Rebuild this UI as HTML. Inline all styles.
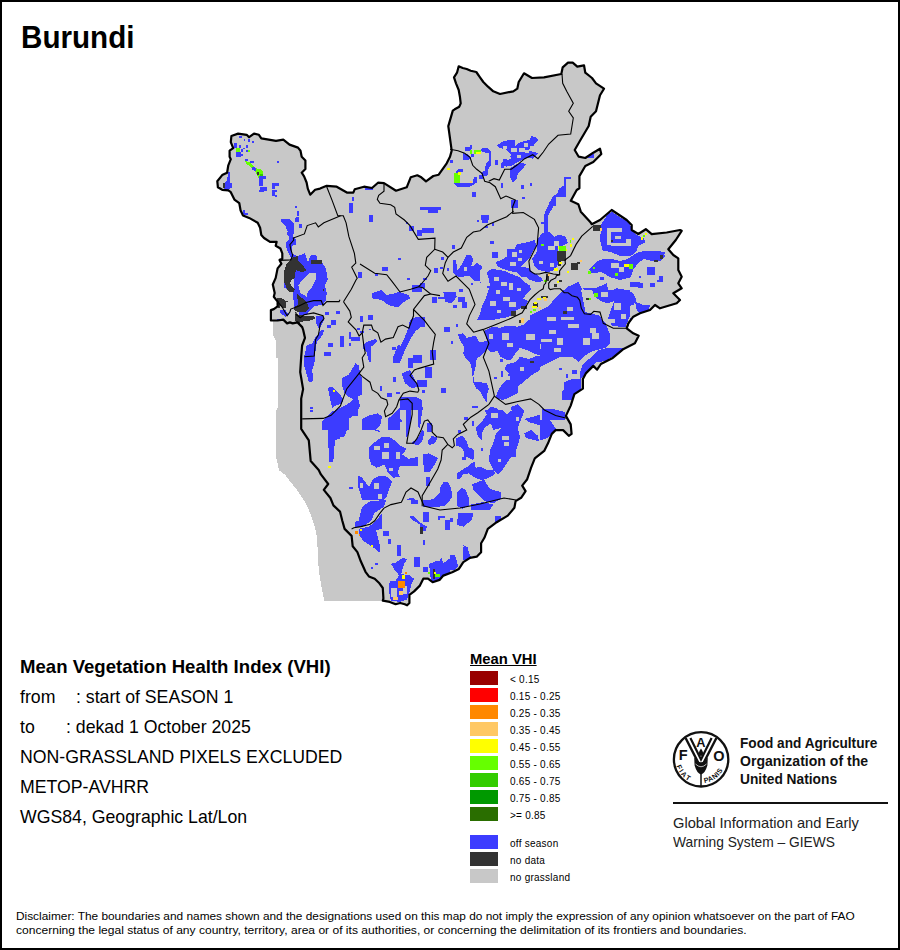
<!DOCTYPE html>
<html><head><meta charset="utf-8"><style>
html,body{margin:0;padding:0;background:#fff;}
body{width:900px;height:950px;position:relative;overflow:hidden;font-family:"Liberation Sans",sans-serif;}
.frame{position:absolute;left:0;top:0;width:896px;height:946px;border:2px solid #000;}
.t{position:absolute;white-space:nowrap;color:#000;}
.sw{position:absolute;left:470px;width:28px;height:14px;}
.lt{position:absolute;left:510px;font-size:10px;line-height:14px;margin-top:1.5px;letter-spacing:0.25px;white-space:nowrap;color:#000;}
svg{position:absolute;left:0;top:0;}
</style></head><body>
<div class="frame"></div>
<svg width="900" height="950" viewBox="0 0 900 950" shape-rendering="crispEdges">
<polygon points="272.7,321.0 272.7,334.0 275.6,340.0 275.6,357.0 278.4,359.0 278.4,406.0 276.5,410.0 275.6,421.0 275.6,455.5 277.5,463.0 278.8,470.0 284.7,474.4 289.2,480.3 296.5,489.2 302.4,498.0 306.9,505.4 310.5,514.2 314.2,524.5 316.4,533.4 317.9,551.1 318.7,570.2 320.9,583.5 323.1,595.3 324.5,600.5 384.0,600.5 384.0,560.0 330.0,470.0 310.0,330.0 310.0,316.0 272.7,316.0" fill="#C8C8C8"/>
<polygon points="231.4,136.0 238.1,133.6 246.7,134.8 249.1,137.2 254.0,133.6 258.9,134.8 261.3,138.4 268.7,139.7 276.0,140.9 283.3,139.7 289.5,144.6 298.0,147.6 300.5,150.7 301.7,156.8 305.4,160.5 305.4,169.0 301.7,172.7 304.1,176.3 306.6,182.5 307.8,188.6 310.2,194.7 315.1,189.8 320.0,188.6 326.7,185.8 336.7,186.7 347.3,192.7 353.3,192.7 354.7,189.3 364.0,186.7 372.0,188.0 378.0,182.7 384.0,183.1 396.0,190.7 406.7,187.3 410.7,177.3 417.3,175.3 421.3,177.3 426.0,181.3 433.3,176.0 438.7,174.7 446.7,163.3 450.0,156.7 451.7,150.6 448.3,126.1 452.8,110.6 454.7,109.3 459.3,106.7 460.7,103.3 460.0,97.3 458.7,90.0 456.0,83.3 454.0,77.3 457.0,72.7 458.7,66.3 462.7,68.0 466.7,69.0 470.7,70.7 476.3,72.0 480.0,77.3 483.3,82.0 488.0,86.7 493.3,91.3 500.0,94.0 513.3,91.3 517.3,88.7 518.7,82.0 524.0,73.3 532.0,78.0 544.0,77.3 561.3,74.0 562.7,67.3 568.0,62.7 572.7,62.7 577.3,66.7 584.0,65.3 585.3,72.7 592.0,78.0 596.0,83.3 604.0,88.7 600.0,95.3 596.0,111.3 590.7,116.7 588.7,126.0 580.0,140.7 574.7,150.0 578.7,156.7 585.3,158.0 593.3,152.7 600.0,148.7 601.3,154.0 593.3,162.0 585.3,166.0 579.4,176.1 579.4,188.3 576.7,190.0 570.8,200.8 578.3,204.2 580.8,211.7 590.0,221.7 591.7,224.2 600.0,220.0 611.7,210.0 626.7,220.0 631.7,225.0 631.7,230.0 638.3,234.0 645.8,229.2 651.7,234.2 666.7,232.5 680.0,230.0 681.7,230.8 675.8,240.0 668.3,249.2 673.3,255.0 678.3,258.3 678.3,270.0 681.7,276.7 678.3,283.3 681.7,288.3 673.3,293.3 680.0,300.0 676.7,303.3 660.0,308.3 655.0,305.0 650.0,310.0 640.0,313.3 633.3,316.7 628.3,323.3 626.7,328.3 633.3,333.3 638.7,335.7 634.9,343.2 623.6,348.9 612.2,358.3 600.9,364.0 597.1,369.7 593.3,365.9 585.8,373.4 582.9,379.1 582.9,388.6 574.4,394.2 570.7,405.6 565.9,415.9 570.7,424.4 571.6,433.9 568.8,435.8 563.1,430.1 555.6,430.1 551.8,433.9 548.0,443.3 544.2,450.9 534.8,458.4 531.0,467.9 527.2,479.2 522.2,485.6 525.6,491.1 521.1,497.8 515.6,501.1 514.4,507.8 507.8,515.6 496.7,522.2 487.8,528.9 484.4,537.8 481.1,543.3 481.1,552.2 476.7,556.7 470.0,557.8 463.3,562.2 458.9,568.9 452.2,572.2 443.3,575.6 439.5,579.9 432.6,582.2 428.0,578.7 423.3,578.7 419.9,585.6 414.1,591.4 409.4,594.9 409.4,603.0 407.1,605.3 404.8,604.2 400.2,603.0 395.6,604.2 389.8,601.9 382.8,600.7 383.4,598.4 382.8,588.0 379.4,583.3 374.7,578.7 368.9,576.4 365.5,571.8 360.8,561.3 357.4,552.1 352.7,546.3 351.6,535.9 344.6,528.9 342.3,520.8 340.0,511.6 333.4,505.4 330.4,498.0 323.8,489.9 328.2,484.0 320.9,474.4 318.7,470.0 310.7,461.1 308.8,440.3 301.2,428.9 301.2,398.6 303.1,389.1 300.2,372.0 301.2,356.9 302.1,345.5 305.0,337.9 303.2,330.0 302.2,327.1 297.5,322.4 292.7,323.4 289.9,322.4 287.1,323.4 283.3,319.6 277.6,320.5 270.9,320.5 270.9,310.1 273.8,309.1 277.6,306.3 277.6,301.6 273.8,296.8 274.7,293.0 272.8,284.5 275.7,277.9 277.6,268.4 281.4,263.7 279.5,259.9 282.3,258.9 282.3,253.3 280.4,248.5 275.7,245.7 276.6,241.9 270.0,241.9 264.0,238.0 261.3,235.0 260.1,227.7 257.7,222.8 249.1,217.9 243.0,215.5 240.6,210.6 239.3,203.2 234.4,199.6 230.8,192.2 228.3,190.4 222.2,189.8 217.9,187.3 217.3,181.2 222.2,175.1 227.1,172.7 228.3,165.3 230.8,159.2 229.6,156.8 229.6,150.7 233.2,148.2 230.8,142.1" fill="#C8C8C8"/>
<defs><clipPath id="cl"><polygon points="231.4,136.0 238.1,133.6 246.7,134.8 249.1,137.2 254.0,133.6 258.9,134.8 261.3,138.4 268.7,139.7 276.0,140.9 283.3,139.7 289.5,144.6 298.0,147.6 300.5,150.7 301.7,156.8 305.4,160.5 305.4,169.0 301.7,172.7 304.1,176.3 306.6,182.5 307.8,188.6 310.2,194.7 315.1,189.8 320.0,188.6 326.7,185.8 336.7,186.7 347.3,192.7 353.3,192.7 354.7,189.3 364.0,186.7 372.0,188.0 378.0,182.7 384.0,183.1 396.0,190.7 406.7,187.3 410.7,177.3 417.3,175.3 421.3,177.3 426.0,181.3 433.3,176.0 438.7,174.7 446.7,163.3 450.0,156.7 451.7,150.6 448.3,126.1 452.8,110.6 454.7,109.3 459.3,106.7 460.7,103.3 460.0,97.3 458.7,90.0 456.0,83.3 454.0,77.3 457.0,72.7 458.7,66.3 462.7,68.0 466.7,69.0 470.7,70.7 476.3,72.0 480.0,77.3 483.3,82.0 488.0,86.7 493.3,91.3 500.0,94.0 513.3,91.3 517.3,88.7 518.7,82.0 524.0,73.3 532.0,78.0 544.0,77.3 561.3,74.0 562.7,67.3 568.0,62.7 572.7,62.7 577.3,66.7 584.0,65.3 585.3,72.7 592.0,78.0 596.0,83.3 604.0,88.7 600.0,95.3 596.0,111.3 590.7,116.7 588.7,126.0 580.0,140.7 574.7,150.0 578.7,156.7 585.3,158.0 593.3,152.7 600.0,148.7 601.3,154.0 593.3,162.0 585.3,166.0 579.4,176.1 579.4,188.3 576.7,190.0 570.8,200.8 578.3,204.2 580.8,211.7 590.0,221.7 591.7,224.2 600.0,220.0 611.7,210.0 626.7,220.0 631.7,225.0 631.7,230.0 638.3,234.0 645.8,229.2 651.7,234.2 666.7,232.5 680.0,230.0 681.7,230.8 675.8,240.0 668.3,249.2 673.3,255.0 678.3,258.3 678.3,270.0 681.7,276.7 678.3,283.3 681.7,288.3 673.3,293.3 680.0,300.0 676.7,303.3 660.0,308.3 655.0,305.0 650.0,310.0 640.0,313.3 633.3,316.7 628.3,323.3 626.7,328.3 633.3,333.3 638.7,335.7 634.9,343.2 623.6,348.9 612.2,358.3 600.9,364.0 597.1,369.7 593.3,365.9 585.8,373.4 582.9,379.1 582.9,388.6 574.4,394.2 570.7,405.6 565.9,415.9 570.7,424.4 571.6,433.9 568.8,435.8 563.1,430.1 555.6,430.1 551.8,433.9 548.0,443.3 544.2,450.9 534.8,458.4 531.0,467.9 527.2,479.2 522.2,485.6 525.6,491.1 521.1,497.8 515.6,501.1 514.4,507.8 507.8,515.6 496.7,522.2 487.8,528.9 484.4,537.8 481.1,543.3 481.1,552.2 476.7,556.7 470.0,557.8 463.3,562.2 458.9,568.9 452.2,572.2 443.3,575.6 439.5,579.9 432.6,582.2 428.0,578.7 423.3,578.7 419.9,585.6 414.1,591.4 409.4,594.9 409.4,603.0 407.1,605.3 404.8,604.2 400.2,603.0 395.6,604.2 389.8,601.9 382.8,600.7 383.4,598.4 382.8,588.0 379.4,583.3 374.7,578.7 368.9,576.4 365.5,571.8 360.8,561.3 357.4,552.1 352.7,546.3 351.6,535.9 344.6,528.9 342.3,520.8 340.0,511.6 333.4,505.4 330.4,498.0 323.8,489.9 328.2,484.0 320.9,474.4 318.7,470.0 310.7,461.1 308.8,440.3 301.2,428.9 301.2,398.6 303.1,389.1 300.2,372.0 301.2,356.9 302.1,345.5 305.0,337.9 303.2,330.0 302.2,327.1 297.5,322.4 292.7,323.4 289.9,322.4 287.1,323.4 283.3,319.6 277.6,320.5 270.9,320.5 270.9,310.1 273.8,309.1 277.6,306.3 277.6,301.6 273.8,296.8 274.7,293.0 272.8,284.5 275.7,277.9 277.6,268.4 281.4,263.7 279.5,259.9 282.3,258.9 282.3,253.3 280.4,248.5 275.7,245.7 276.6,241.9 270.0,241.9 264.0,238.0 261.3,235.0 260.1,227.7 257.7,222.8 249.1,217.9 243.0,215.5 240.6,210.6 239.3,203.2 234.4,199.6 230.8,192.2 228.3,190.4 222.2,189.8 217.9,187.3 217.3,181.2 222.2,175.1 227.1,172.7 228.3,165.3 230.8,159.2 229.6,156.8 229.6,150.7 233.2,148.2 230.8,142.1"/></clipPath></defs>
<g clip-path="url(#cl)">
<rect x="239.2" y="135.8" width="2.5" height="2.5" fill="#3C3CFF"/>
<rect x="252.5" y="140.8" width="2.0" height="2.0" fill="#3C3CFF"/>
<rect x="234.2" y="143.3" width="2.5" height="4.2" fill="#3C3CFF"/>
<rect x="239.2" y="145.0" width="2.5" height="2.5" fill="#3C3CFF"/>
<rect x="245.0" y="145.0" width="2.5" height="2.5" fill="#3C3CFF"/>
<rect x="241.7" y="148.3" width="3.3" height="2.5" fill="#3C3CFF"/>
<rect x="235.8" y="151.7" width="6.7" height="5.0" fill="#3C3CFF"/>
<rect x="235.8" y="148.3" width="4.2" height="4.2" fill="#66FF00"/>
<rect x="242.5" y="154.2" width="1.7" height="2.5" fill="#3C3CFF"/>
<rect x="247.5" y="150.0" width="2.5" height="1.7" fill="#66FF00"/>
<polygon points="245.0,160.0 250.8,160.8 255.0,165.8 260.0,168.3 263.3,171.7 263.3,178.3 258.3,179.2 256.7,174.2 252.5,170.0 248.3,165.8 245.0,163.3" fill="#66FF00"/>
<rect x="250.0" y="160.8" width="3.3" height="2.5" fill="#3C3CFF"/>
<rect x="252.5" y="167.5" width="4.2" height="3.3" fill="#3C3CFF"/>
<polygon points="257.5,176.7 265.8,177.5 265.0,181.7 262.5,187.5 259.2,187.5 259.2,180.0" fill="#3C3CFF"/>
<rect x="259.2" y="187.5" width="9.2" height="4.2" fill="#3C3CFF"/>
<rect x="276.7" y="160.8" width="2.0" height="2.0" fill="#3C3CFF"/>
<polygon points="272.5,183.3 279.2,183.3 278.3,187.5 276.7,196.7 272.5,195.8 271.7,186.7" fill="#3C3CFF"/>
<polygon points="227.5,172.5 230.0,172.5 230.8,181.7 231.7,188.3 225.0,189.2 224.2,181.7 226.7,180.0" fill="#3C3CFF"/>
<rect x="223.3" y="183.3" width="2.0" height="5.8" fill="#333333"/>
<rect x="243.3" y="210.0" width="4.2" height="5.0" fill="#3C3CFF"/>
<rect x="295.0" y="205.8" width="2.0" height="2.5" fill="#3C3CFF"/>
<rect x="296.7" y="210.0" width="2.5" height="7.5" fill="#3C3CFF"/>
<rect x="295.0" y="216.7" width="3.3" height="5.0" fill="#3C3CFF"/>
<rect x="299.2" y="224.2" width="2.5" height="4.2" fill="#3C3CFF"/>
<polygon points="280.8,219.2 290.0,219.2 294.2,223.3 294.2,231.7 292.5,236.7 296.7,240.0 296.7,246.7 293.3,250.0 290.8,253.3 287.5,248.3 289.2,243.3 288.3,233.3 285.8,226.7 281.7,222.5" fill="#3C3CFF"/>
<polygon points="290.8,253.3 300.8,254.2 305.8,253.3 307.5,263.3 310.8,256.7 316.7,255.8 321.7,261.7 325.0,268.3 326.7,280.0 285.0,280.0 285.0,266.7 289.2,258.3" fill="#3C3CFF"/>
<polygon points="286.7,256.7 298.3,256.7 303.3,263.3 300.8,271.7 293.3,276.7 285.0,280.0 284.2,263.3" fill="#333333"/>
<rect x="313.3" y="260.0" width="8.3" height="5.0" fill="#333333"/>
<rect x="351.7" y="196.7" width="2.5" height="4.2" fill="#3C3CFF"/>
<rect x="349.2" y="203.3" width="3.3" height="9.2" fill="#3C3CFF"/>
<rect x="358.3" y="271.7" width="3.3" height="6.7" fill="#3C3CFF"/>
<polygon points="463.3,153.3 468.3,154.2 470.0,160.0 464.2,160.8" fill="#3C3CFF"/>
<rect x="465.0" y="145.8" width="6.7" height="3.3" fill="#3C3CFF"/>
<rect x="470.0" y="153.3" width="3.3" height="4.2" fill="#3C3CFF"/>
<rect x="470.0" y="150.0" width="2.5" height="3.3" fill="#66FF00"/>
<rect x="474.2" y="150.0" width="6.7" height="3.3" fill="#66FF00"/>
<rect x="475.8" y="151.7" width="5.0" height="1.7" fill="#FFFF00"/>
<rect x="481.7" y="148.3" width="8.3" height="5.0" fill="#3C3CFF"/>
<rect x="488.3" y="143.3" width="3.3" height="6.7" fill="#3C3CFF"/>
<rect x="489.2" y="153.3" width="3.3" height="15.0" fill="#3C3CFF"/>
<rect x="485.0" y="167.5" width="3.3" height="9.2" fill="#3C3CFF"/>
<rect x="480.0" y="176.7" width="2.5" height="2.5" fill="#3C3CFF"/>
<rect x="495.0" y="160.8" width="3.3" height="5.0" fill="#3C3CFF"/>
<polygon points="497.5,144.2 508.3,140.0 515.0,139.2 515.0,150.0 510.0,153.3 508.3,159.2 503.3,160.0 503.3,150.0 498.3,147.5" fill="#3C3CFF"/>
<rect x="508.3" y="159.2" width="6.7" height="3.3" fill="#3C3CFF"/>
<rect x="510.0" y="171.7" width="5.0" height="10.0" fill="#3C3CFF"/>
<rect x="500.8" y="181.7" width="2.5" height="5.8" fill="#3C3CFF"/>
<polygon points="454.2,174.2 460.8,171.7 460.8,181.7 456.7,185.8 454.2,180.0" fill="#66FF00"/>
<rect x="457.5" y="168.3" width="5.0" height="3.3" fill="#3C3CFF"/>
<rect x="458.3" y="176.7" width="2.5" height="5.0" fill="#3C3CFF"/>
<rect x="455.8" y="182.5" width="18.3" height="5.0" fill="#3C3CFF"/>
<rect x="471.7" y="176.7" width="4.2" height="7.5" fill="#3C3CFF"/>
<rect x="446.7" y="167.5" width="3.3" height="2.5" fill="#FFFF00"/>
<rect x="458.3" y="172.5" width="3.3" height="1.7" fill="#FFFF00"/>
<rect x="471.7" y="191.7" width="4.2" height="5.0" fill="#3C3CFF"/>
<rect x="420.0" y="206.7" width="20.8" height="3.3" fill="#3C3CFF"/>
<rect x="428.3" y="208.3" width="9.2" height="4.2" fill="#3C3CFF"/>
<rect x="481.7" y="216.7" width="6.7" height="5.8" fill="#3C3CFF"/>
<rect x="476.7" y="219.2" width="2.5" height="2.5" fill="#3C3CFF"/>
<rect x="485.0" y="225.8" width="3.3" height="2.5" fill="#3C3CFF"/>
<rect x="491.7" y="223.3" width="2.5" height="2.5" fill="#3C3CFF"/>
<rect x="512.5" y="203.3" width="2.5" height="10.0" fill="#3C3CFF"/>
<rect x="405.8" y="221.7" width="2.5" height="2.5" fill="#3C3CFF"/>
<rect x="409.2" y="225.8" width="5.0" height="5.0" fill="#3C3CFF"/>
<rect x="416.7" y="230.0" width="5.0" height="5.8" fill="#3C3CFF"/>
<rect x="421.7" y="228.3" width="12.5" height="4.2" fill="#3C3CFF"/>
<rect x="369.2" y="215.0" width="3.3" height="6.7" fill="#3C3CFF"/>
<rect x="451.7" y="245.8" width="2.5" height="3.3" fill="#3C3CFF"/>
<rect x="465.0" y="253.3" width="5.8" height="5.0" fill="#3C3CFF"/>
<rect x="490.0" y="241.7" width="4.2" height="2.5" fill="#3C3CFF"/>
<polygon points="451.7,260.0 458.3,258.3 465.0,253.3 471.7,256.7 473.3,266.7 481.7,265.0 481.7,280.0 451.7,280.0 450.0,268.3" fill="#3C3CFF"/>
<rect x="493.3" y="253.3" width="3.3" height="4.2" fill="#3C3CFF"/>
<rect x="496.7" y="261.7" width="5.0" height="8.3" fill="#3C3CFF"/>
<polygon points="505.0,250.0 515.0,248.3 515.0,280.0 491.7,280.0 491.7,271.7 501.7,263.3 505.0,258.3" fill="#3C3CFF"/>
<rect x="398.3" y="257.5" width="2.5" height="2.5" fill="#3C3CFF"/>
<rect x="381.7" y="266.7" width="5.8" height="4.2" fill="#3C3CFF"/>
<rect x="375.0" y="272.5" width="3.3" height="3.3" fill="#3C3CFF"/>
<rect x="434.2" y="268.3" width="3.3" height="4.2" fill="#3C3CFF"/>
<rect x="440.8" y="257.5" width="2.5" height="2.5" fill="#3C3CFF"/>
<rect x="406.7" y="277.5" width="3.3" height="2.5" fill="#3C3CFF"/>
<rect x="423.3" y="277.5" width="3.3" height="2.5" fill="#3C3CFF"/>
<rect x="365.0" y="186.7" width="8.3" height="3.3" fill="#3C3CFF"/>
<rect x="517.5" y="141.7" width="4.2" height="5.8" fill="#3C3CFF"/>
<rect x="521.7" y="148.3" width="5.0" height="4.2" fill="#3C3CFF"/>
<rect x="526.7" y="144.2" width="4.2" height="3.3" fill="#3C3CFF"/>
<rect x="531.7" y="136.7" width="4.2" height="4.2" fill="#3C3CFF"/>
<rect x="530.8" y="140.0" width="6.7" height="2.5" fill="#3C3CFF"/>
<rect x="528.3" y="151.7" width="10.0" height="4.2" fill="#3C3CFF"/>
<rect x="515.0" y="156.7" width="5.0" height="4.2" fill="#3C3CFF"/>
<rect x="515.0" y="163.3" width="9.2" height="5.0" fill="#3C3CFF"/>
<rect x="520.0" y="161.7" width="5.0" height="4.2" fill="#3C3CFF"/>
<rect x="515.0" y="168.3" width="2.5" height="11.7" fill="#3C3CFF"/>
<rect x="519.2" y="174.2" width="2.5" height="2.5" fill="#3C3CFF"/>
<rect x="520.8" y="185.8" width="3.3" height="4.2" fill="#3C3CFF"/>
<rect x="530.0" y="183.3" width="2.5" height="2.5" fill="#3C3CFF"/>
<rect x="521.7" y="196.7" width="2.5" height="2.5" fill="#3C3CFF"/>
<rect x="515.0" y="199.2" width="4.2" height="6.7" fill="#3C3CFF"/>
<rect x="588.3" y="154.2" width="5.8" height="3.3" fill="#3C3CFF"/>
<polygon points="564.2,177.5 570.8,177.5 570.0,180.0 565.0,180.8 565.0,186.7 565.8,195.8 558.3,197.5 553.3,201.7 550.0,207.5 546.7,213.3 545.8,223.3 545.8,238.3 542.5,238.3 542.5,221.7 544.2,211.7 548.3,203.3 553.3,196.7 557.5,191.7 561.7,187.5" fill="#3C3CFF"/>
<polygon points="516.7,246.7 525.0,243.3 533.3,245.0 540.0,240.0 548.3,236.7 560.0,233.3 565.0,236.7 570.0,246.7 565.0,255.0 558.3,260.0 555.0,268.3 550.0,275.0 540.0,280.0 515.0,280.0 515.0,256.7" fill="#3C3CFF"/>
<rect x="518.3" y="256.7" width="5.0" height="4.2" fill="#C8C8C8"/>
<rect x="525.0" y="263.3" width="4.2" height="5.0" fill="#C8C8C8"/>
<rect x="548.3" y="238.3" width="5.0" height="6.7" fill="#C8C8C8"/>
<rect x="531.7" y="266.7" width="5.0" height="3.3" fill="#C8C8C8"/>
<rect x="556.7" y="250.8" width="7.5" height="10.0" fill="#333333"/>
<rect x="544.2" y="273.3" width="3.3" height="6.7" fill="#333333"/>
<rect x="559.2" y="245.8" width="6.7" height="4.2" fill="#66FF00"/>
<rect x="540.8" y="244.2" width="3.3" height="2.5" fill="#66FF00"/>
<rect x="568.3" y="240.0" width="2.5" height="2.5" fill="#66FF00"/>
<rect x="557.5" y="246.7" width="2.5" height="2.5" fill="#FFFF00"/>
<rect x="569.2" y="244.2" width="2.5" height="2.5" fill="#FFFF00"/>
<rect x="571.7" y="237.5" width="2.5" height="2.5" fill="#FFFF00"/>
<rect x="559.2" y="261.7" width="3.3" height="2.5" fill="#FFFF00"/>
<rect x="555.0" y="268.3" width="2.5" height="2.5" fill="#FFFF00"/>
<rect x="570.8" y="263.3" width="6.7" height="6.7" fill="#333333"/>
<rect x="576.7" y="261.7" width="3.3" height="2.5" fill="#333333"/>
<rect x="593.3" y="224.2" width="8.3" height="7.5" fill="#333333"/>
<rect x="600.0" y="228.3" width="2.0" height="2.5" fill="#FFC864"/>
<polygon points="607.5,213.3 611.7,210.0 623.3,218.3 631.7,223.3 631.7,230.0 638.3,234.2 643.3,233.3 645.0,240.0 638.3,245.0 631.7,250.0 623.3,253.3 616.7,256.7 607.5,253.3 603.3,250.0 600.8,238.3 601.7,226.7 607.5,223.3" fill="#3C3CFF"/>
<rect x="610.0" y="229.2" width="10.0" height="3.3" fill="#C8C8C8"/>
<rect x="608.3" y="232.5" width="3.3" height="13.3" fill="#C8C8C8"/>
<rect x="611.7" y="242.5" width="13.3" height="3.3" fill="#C8C8C8"/>
<rect x="616.7" y="235.0" width="8.3" height="2.5" fill="#C8C8C8"/>
<rect x="603.3" y="251.7" width="6.7" height="3.3" fill="#C8C8C8"/>
<polygon points="593.3,268.3 603.3,261.7 610.0,258.3 621.7,256.7 631.7,253.3 641.7,251.7 653.3,251.7 665.0,250.0 665.0,261.7 653.3,263.3 646.7,261.7 635.0,260.0 625.0,261.7 618.3,266.7 611.7,271.7 601.7,273.3 591.7,271.7" fill="#3C3CFF"/>
<rect x="585.0" y="271.7" width="6.7" height="2.5" fill="#66FF00"/>
<rect x="615.0" y="273.3" width="3.3" height="2.5" fill="#66FF00"/>
<rect x="624.2" y="263.3" width="5.0" height="3.3" fill="#FFFF00"/>
<rect x="629.2" y="264.2" width="3.3" height="4.2" fill="#66FF00"/>
<rect x="648.3" y="266.7" width="6.7" height="10.0" fill="#3C3CFF"/>
<rect x="660.0" y="255.0" width="2.5" height="2.5" fill="#333333"/>
<rect x="648.3" y="266.7" width="7.5" height="10.0" fill="#3C3CFF"/>
<rect x="656.7" y="275.0" width="5.8" height="6.7" fill="#3C3CFF"/>
<rect x="651.7" y="253.3" width="11.7" height="7.5" fill="#3C3CFF"/>
<rect x="660.0" y="255.0" width="2.5" height="2.5" fill="#333333"/>
<rect x="630.0" y="281.7" width="10.0" height="5.0" fill="#3C3CFF"/>
<rect x="638.3" y="283.3" width="4.2" height="4.2" fill="#3C3CFF"/>
<rect x="650.0" y="283.3" width="5.0" height="3.3" fill="#3C3CFF"/>
<rect x="663.3" y="251.7" width="3.3" height="3.3" fill="#3C3CFF"/>
<polygon points="600.0,260.0 611.7,257.5 626.7,258.3 633.3,256.7 640.0,260.0 640.0,266.7 633.3,270.0 626.7,276.7 620.0,276.7 613.3,268.3 603.3,268.3 596.7,266.7" fill="#3C3CFF"/>
<rect x="624.2" y="264.2" width="5.0" height="3.3" fill="#FFFF00"/>
<rect x="628.3" y="264.2" width="4.2" height="5.0" fill="#66FF00"/>
<polygon points="568.3,286.7 578.3,281.7 583.3,291.7 585.0,300.0 595.0,301.7 596.7,306.7 590.0,310.0 583.3,306.7 580.0,301.7 576.7,296.7 570.0,293.3" fill="#3C3CFF"/>
<polygon points="583.3,288.3 595.0,288.3 606.7,283.3 608.3,290.0 600.0,296.7 593.3,298.3 586.7,296.7" fill="#3C3CFF"/>
<polygon points="608.3,291.7 616.7,288.3 626.7,290.0 633.3,293.3 636.7,300.0 633.3,305.0 626.7,306.7 623.3,313.3 616.7,316.7 611.7,323.3 606.7,321.7 606.7,313.3 610.0,306.7 608.3,300.0" fill="#3C3CFF"/>
<polygon points="635.0,301.7 643.3,305.0 650.0,305.0 648.3,311.7 640.0,313.3 636.7,310.0" fill="#3C3CFF"/>
<rect x="630.0" y="318.3" width="5.0" height="6.7" fill="#3C3CFF"/>
<rect x="618.3" y="323.3" width="6.7" height="6.7" fill="#3C3CFF"/>
<polygon points="590.0,313.3 598.3,311.7 603.3,316.7 600.0,323.3 595.0,326.7 590.0,321.7" fill="#3C3CFF"/>
<polygon points="540.0,310.0 550.0,303.3 560.0,296.7 571.7,295.0 578.3,300.0 583.3,311.7 590.0,316.7 598.3,325.0 606.7,326.7 610.0,336.7 613.3,343.3 610.0,350.0 603.3,356.7 596.7,365.0 588.3,366.7 581.7,365.0 573.3,366.7 561.7,365.0 550.0,365.0 540.0,365.0" fill="#3C3CFF"/>
<rect x="545.0" y="316.7" width="6.7" height="5.0" fill="#C8C8C8"/>
<rect x="556.7" y="320.0" width="8.3" height="4.2" fill="#C8C8C8"/>
<rect x="570.0" y="313.3" width="6.7" height="5.0" fill="#C8C8C8"/>
<rect x="565.0" y="325.0" width="5.0" height="5.0" fill="#C8C8C8"/>
<rect x="575.0" y="323.3" width="6.7" height="3.3" fill="#C8C8C8"/>
<rect x="555.0" y="333.3" width="5.0" height="5.0" fill="#C8C8C8"/>
<rect x="583.3" y="333.3" width="6.7" height="10.0" fill="#C8C8C8"/>
<rect x="593.3" y="336.7" width="6.7" height="6.7" fill="#C8C8C8"/>
<rect x="550.0" y="343.3" width="5.0" height="3.3" fill="#C8C8C8"/>
<rect x="565.0" y="346.7" width="8.3" height="5.0" fill="#C8C8C8"/>
<rect x="586.7" y="350.0" width="5.0" height="6.7" fill="#C8C8C8"/>
<rect x="540.0" y="348.3" width="5.0" height="5.0" fill="#C8C8C8"/>
<rect x="616.7" y="346.7" width="6.7" height="5.0" fill="#3C3CFF"/>
<rect x="603.3" y="353.3" width="5.0" height="5.0" fill="#3C3CFF"/>
<polygon points="578.3,366.7 588.3,363.3 593.3,365.0 595.0,368.3 590.0,371.7 583.3,376.7 581.7,383.3 578.3,395.0 573.3,400.0 561.7,400.0 563.3,383.3 571.7,375.0" fill="#3C3CFF"/>
<rect x="560.0" y="366.7" width="3.3" height="3.3" fill="#3C3CFF"/>
<rect x="570.8" y="263.3" width="5.8" height="6.7" fill="#333333"/>
<rect x="563.3" y="310.8" width="2.5" height="3.3" fill="#333333"/>
<rect x="284.2" y="280.0" width="3.3" height="8.3" fill="#3C3CFF"/>
<rect x="295.8" y="280.0" width="5.0" height="10.0" fill="#3C3CFF"/>
<rect x="298.3" y="290.0" width="6.7" height="6.7" fill="#3C3CFF"/>
<polygon points="285.0,280.0 295.0,280.0 295.0,291.7 288.3,291.7 285.0,286.7" fill="#333333"/>
<polygon points="308.3,285.0 315.0,280.0 326.7,280.0 325.0,290.0 325.0,301.7 318.3,305.0 308.3,301.7 308.3,293.3" fill="#3C3CFF"/>
<polygon points="296.7,296.7 305.0,298.3 308.3,303.3 305.0,310.0 298.3,310.0 296.7,303.3" fill="#333333"/>
<polygon points="276.7,298.3 290.0,300.0 288.3,303.3 285.0,308.3 278.3,308.3" fill="#333333"/>
<polygon points="303.3,305.0 321.7,303.3 325.0,310.0 321.7,313.3 315.0,313.3 305.0,313.3" fill="#3C3CFF"/>
<rect x="281.7" y="308.3" width="10.0" height="6.7" fill="#3C3CFF"/>
<rect x="291.7" y="311.7" width="6.7" height="5.0" fill="#3C3CFF"/>
<polygon points="293.3,313.3 301.7,313.3 311.7,315.0 316.7,318.3 311.7,321.7 301.7,323.3 295.0,320.0" fill="#333333"/>
<rect x="315.0" y="313.3" width="10.0" height="10.0" fill="#3C3CFF"/>
<rect x="321.7" y="310.0" width="5.0" height="5.0" fill="#3C3CFF"/>
<rect x="276.7" y="319.2" width="6.7" height="2.5" fill="#3C3CFF"/>
<rect x="336.7" y="310.8" width="3.3" height="3.3" fill="#3C3CFF"/>
<rect x="325.0" y="318.3" width="3.3" height="3.3" fill="#3C3CFF"/>
<rect x="331.7" y="321.7" width="5.0" height="5.0" fill="#3C3CFF"/>
<rect x="328.3" y="326.7" width="4.2" height="3.3" fill="#3C3CFF"/>
<polygon points="315.0,330.0 321.7,325.0 325.0,328.3 321.7,335.0 316.7,341.7 311.7,350.0 308.3,360.0 308.3,370.0 311.7,373.3 313.3,381.7 308.3,381.7 305.0,373.3 305.0,358.3 306.7,346.7 311.7,338.3" fill="#3C3CFF"/>
<rect x="340.0" y="335.0" width="4.2" height="6.7" fill="#3C3CFF"/>
<rect x="348.3" y="331.7" width="3.3" height="4.2" fill="#3C3CFF"/>
<rect x="351.7" y="336.7" width="8.3" height="5.0" fill="#3C3CFF"/>
<rect x="356.7" y="328.3" width="3.3" height="3.3" fill="#3C3CFF"/>
<rect x="360.0" y="315.8" width="2.5" height="5.8" fill="#3C3CFF"/>
<rect x="328.3" y="342.5" width="5.0" height="5.0" fill="#3C3CFF"/>
<rect x="341.7" y="341.7" width="2.5" height="4.2" fill="#3C3CFF"/>
<rect x="348.3" y="342.5" width="2.5" height="2.5" fill="#3C3CFF"/>
<rect x="323.3" y="352.5" width="6.7" height="3.3" fill="#3C3CFF"/>
<rect x="361.7" y="340.0" width="3.3" height="10.0" fill="#3C3CFF"/>
<polygon points="353.3,363.3 358.3,363.3 360.0,371.7 365.0,378.3 365.0,390.0 361.7,396.7 355.0,403.3 350.0,406.7 345.0,401.7 343.3,388.3 346.7,380.0 353.3,373.3" fill="#3C3CFF"/>
<polygon points="328.3,386.7 333.3,386.7 341.7,393.3 343.3,401.7 338.3,406.7 333.3,406.7 328.3,396.7" fill="#3C3CFF"/>
<rect x="333.0" y="389.7" width="2.0" height="2.0" fill="#FFFF00"/>
<polygon points="331.7,411.7 341.7,408.3 348.3,406.7 351.7,413.3 348.3,423.3 346.7,430.0 321.7,430.0 323.3,418.3" fill="#3C3CFF"/>
<rect x="310.0" y="405.8" width="3.3" height="5.8" fill="#3C3CFF"/>
<rect x="363.3" y="416.7" width="1.7" height="10.0" fill="#3C3CFF"/>
<polygon points="371.7,293.3 381.7,290.0 386.7,295.0 395.0,293.3 398.3,291.7 408.3,295.0 410.0,298.3 401.7,303.3 398.3,307.5 388.3,305.0 381.7,300.0 371.7,298.3" fill="#3C3CFF"/>
<rect x="411.7" y="285.0" width="10.0" height="6.7" fill="#3C3CFF"/>
<rect x="420.0" y="283.3" width="5.0" height="5.0" fill="#3C3CFF"/>
<rect x="431.7" y="296.7" width="5.0" height="6.7" fill="#3C3CFF"/>
<rect x="438.3" y="296.7" width="8.3" height="2.5" fill="#3C3CFF"/>
<polygon points="443.3,291.7 455.0,290.0 456.7,296.7 451.7,303.3 445.0,301.7" fill="#3C3CFF"/>
<rect x="458.3" y="296.7" width="6.7" height="5.0" fill="#3C3CFF"/>
<rect x="461.7" y="301.7" width="5.0" height="6.7" fill="#3C3CFF"/>
<rect x="453.3" y="305.0" width="3.3" height="2.5" fill="#3C3CFF"/>
<rect x="368.3" y="315.0" width="5.0" height="5.0" fill="#3C3CFF"/>
<polygon points="410.0,320.0 416.7,316.7 421.7,316.7 423.3,325.0 415.0,331.7 410.0,340.0 405.0,350.0 401.7,358.3 398.3,365.0 393.3,363.3 395.0,355.0 400.0,346.7 405.0,336.7 408.3,328.3" fill="#3C3CFF"/>
<rect x="420.0" y="316.7" width="5.0" height="10.0" fill="#3C3CFF"/>
<polygon points="365.0,335.0 370.0,328.3 375.0,338.3 371.7,350.0 370.0,361.7 365.0,361.7" fill="#3C3CFF"/>
<rect x="375.0" y="338.3" width="5.0" height="5.0" fill="#3C3CFF"/>
<rect x="413.3" y="355.0" width="8.3" height="8.3" fill="#3C3CFF"/>
<rect x="408.3" y="358.3" width="5.0" height="10.0" fill="#3C3CFF"/>
<rect x="430.0" y="350.0" width="5.8" height="10.0" fill="#3C3CFF"/>
<rect x="425.0" y="366.7" width="6.7" height="11.7" fill="#3C3CFF"/>
<polygon points="401.7,373.3 410.0,370.0 415.0,380.0 418.3,386.7 411.7,388.3 405.0,383.3" fill="#3C3CFF"/>
<rect x="416.7" y="380.0" width="10.0" height="6.7" fill="#3C3CFF"/>
<rect x="445.0" y="326.7" width="5.0" height="5.0" fill="#3C3CFF"/>
<rect x="391.7" y="346.7" width="2.5" height="3.3" fill="#3C3CFF"/>
<rect x="393.3" y="376.7" width="3.3" height="6.7" fill="#3C3CFF"/>
<rect x="451.7" y="341.7" width="2.5" height="3.3" fill="#3C3CFF"/>
<rect x="441.7" y="388.3" width="3.3" height="5.0" fill="#3C3CFF"/>
<rect x="380.0" y="386.7" width="3.3" height="10.0" fill="#3C3CFF"/>
<polygon points="461.7,333.3 468.3,331.7 475.0,335.0 481.7,330.0 488.3,335.0 488.3,346.7 483.3,353.3 480.0,360.0 473.3,360.0 465.0,358.3 463.3,346.7 458.3,340.0" fill="#3C3CFF"/>
<polygon points="481.7,296.7 491.7,290.0 488.3,283.3 498.3,280.0 515.0,280.0 515.0,320.0 498.3,323.3 488.3,320.0 481.7,318.3 481.7,306.7" fill="#3C3CFF"/>
<rect x="498.3" y="290.0" width="6.7" height="6.7" fill="#C8C8C8"/>
<rect x="506.7" y="300.0" width="8.3" height="6.7" fill="#C8C8C8"/>
<rect x="491.7" y="310.0" width="6.7" height="5.0" fill="#C8C8C8"/>
<rect x="463.3" y="280.0" width="8.3" height="3.3" fill="#3C3CFF"/>
<rect x="468.3" y="286.7" width="5.0" height="5.0" fill="#3C3CFF"/>
<rect x="478.3" y="283.3" width="5.0" height="5.0" fill="#3C3CFF"/>
<polygon points="485.0,326.7 498.3,323.3 515.0,325.0 515.0,373.3 508.3,380.0 503.3,388.3 511.7,393.3 515.0,396.7 515.0,430.0 465.0,430.0 473.3,416.7 481.7,413.3 491.7,406.7 495.0,396.7 491.7,386.7 488.3,376.7 485.0,366.7 481.7,360.0 485.0,350.0 488.3,340.0 481.7,335.0" fill="#3C3CFF"/>
<rect x="498.3" y="330.0" width="6.7" height="6.7" fill="#C8C8C8"/>
<rect x="485.0" y="350.0" width="10.0" height="10.0" fill="#C8C8C8"/>
<rect x="491.7" y="363.3" width="6.7" height="8.3" fill="#C8C8C8"/>
<rect x="498.3" y="373.3" width="6.7" height="6.7" fill="#C8C8C8"/>
<rect x="481.7" y="373.3" width="6.7" height="6.7" fill="#C8C8C8"/>
<rect x="506.7" y="353.3" width="8.3" height="8.3" fill="#C8C8C8"/>
<rect x="501.7" y="396.7" width="10.0" height="10.0" fill="#C8C8C8"/>
<rect x="481.7" y="393.3" width="6.7" height="6.7" fill="#C8C8C8"/>
<rect x="488.3" y="416.7" width="10.0" height="6.7" fill="#C8C8C8"/>
<rect x="471.7" y="363.3" width="5.0" height="25.0" fill="#3C3CFF"/>
<rect x="475.0" y="380.0" width="10.0" height="10.0" fill="#3C3CFF"/>
<rect x="481.7" y="396.7" width="5.0" height="6.7" fill="#3C3CFF"/>
<polygon points="365.0,413.3 375.0,413.3 381.7,418.3 378.3,430.0 365.0,430.0" fill="#3C3CFF"/>
<polygon points="388.3,400.0 401.7,396.7 415.0,396.7 421.7,400.0 423.3,413.3 420.0,430.0 386.7,430.0 385.0,413.3" fill="#3C3CFF"/>
<rect x="391.7" y="406.7" width="6.7" height="6.7" fill="#C8C8C8"/>
<rect x="405.0" y="410.0" width="5.0" height="10.0" fill="#C8C8C8"/>
<rect x="398.3" y="420.0" width="5.0" height="6.7" fill="#C8C8C8"/>
<rect x="421.7" y="390.0" width="3.3" height="3.3" fill="#3C3CFF"/>
<polygon points="490.0,270.0 531.1,270.0 537.4,274.7 543.7,279.5 540.5,288.9 531.1,296.8 524.7,304.7 518.4,311.1 510.5,317.4 490.0,320.5" fill="#3C3CFF"/>
<rect x="494.7" y="276.3" width="7.9" height="4.7" fill="#C8C8C8"/>
<rect x="508.9" y="282.6" width="9.5" height="7.9" fill="#C8C8C8"/>
<rect x="490.0" y="290.5" width="6.3" height="6.3" fill="#C8C8C8"/>
<rect x="521.6" y="279.5" width="6.3" height="6.3" fill="#C8C8C8"/>
<rect x="504.2" y="296.8" width="9.5" height="6.3" fill="#C8C8C8"/>
<rect x="515.3" y="293.7" width="6.3" height="6.3" fill="#C8C8C8"/>
<rect x="496.3" y="306.3" width="7.9" height="4.7" fill="#C8C8C8"/>
<polygon points="550.0,301.6 556.3,295.3 565.0,293.7 565.0,311.1 553.2,311.1" fill="#3C3CFF"/>
<polygon points="490.0,322.1 510.5,322.1 531.1,317.4 542.1,317.4 553.2,311.1 565.0,312.6 565.0,345.8 553.2,349.0 542.1,358.4 537.4,355.3 529.5,347.4 518.4,339.5 508.9,336.3 490.0,339.5" fill="#3C3CFF"/>
<rect x="499.5" y="328.4" width="7.9" height="7.9" fill="#C8C8C8"/>
<rect x="521.6" y="325.3" width="9.5" height="6.3" fill="#C8C8C8"/>
<rect x="534.2" y="326.8" width="9.5" height="7.9" fill="#C8C8C8"/>
<rect x="550.0" y="320.5" width="6.3" height="6.3" fill="#C8C8C8"/>
<rect x="510.5" y="336.3" width="4.7" height="4.7" fill="#C8C8C8"/>
<rect x="537.4" y="342.6" width="7.9" height="6.3" fill="#C8C8C8"/>
<rect x="556.3" y="336.3" width="6.3" height="7.9" fill="#C8C8C8"/>
<polygon points="490.0,352.1 499.5,349.0 510.5,350.5 518.4,344.2 527.9,352.1 537.4,360.0 532.6,367.9 524.7,380.5 520.0,390.0 510.5,394.7 499.5,397.9 490.0,397.9" fill="#3C3CFF"/>
<rect x="493.2" y="364.7" width="6.3" height="9.5" fill="#C8C8C8"/>
<rect x="507.4" y="371.1" width="6.3" height="6.3" fill="#C8C8C8"/>
<rect x="499.5" y="383.7" width="6.3" height="6.3" fill="#C8C8C8"/>
<rect x="559.5" y="367.9" width="3.2" height="3.2" fill="#3C3CFF"/>
<polygon points="490.0,401.1 499.5,399.5 508.9,407.4 521.6,405.8 529.5,412.1 529.5,420.0 490.0,420.0" fill="#3C3CFF"/>
<polygon points="542.1,409.0 553.2,409.0 565.0,412.1 565.0,420.0 542.1,420.0" fill="#3C3CFF"/>
<rect x="510.5" y="311.1" width="4.7" height="4.7" fill="#333333"/>
<rect x="521.6" y="304.7" width="4.7" height="4.7" fill="#333333"/>
<rect x="530.3" y="360.8" width="4.7" height="2.4" fill="#333333"/>
<rect x="520.0" y="318.9" width="3.9" height="3.9" fill="#FFC864"/>
<rect x="532.6" y="301.6" width="4.7" height="6.3" fill="#FFFF00"/>
<rect x="537.4" y="297.6" width="6.3" height="3.2" fill="#FFFF00"/>
<rect x="530.3" y="307.9" width="4.7" height="4.7" fill="#66FF00"/>
<polygon points="328.3,430.0 345.0,430.0 345.0,436.7 335.0,440.0 333.3,461.7 329.2,461.7 328.3,443.3" fill="#3C3CFF"/>
<rect x="328.3" y="465.8" width="2.5" height="2.5" fill="#FFFF00"/>
<polygon points="370.0,446.7 376.7,443.3 383.3,445.0 390.0,436.7 400.0,436.7 406.7,445.0 416.7,445.0 420.0,455.0 416.7,463.3 403.3,465.0 393.3,470.0 386.7,470.0 380.0,466.7 373.3,465.0 369.2,456.7" fill="#3C3CFF"/>
<rect x="378.3" y="448.3" width="5.0" height="8.3" fill="#C8C8C8"/>
<rect x="393.3" y="451.7" width="6.7" height="6.7" fill="#C8C8C8"/>
<rect x="406.7" y="455.0" width="6.7" height="5.0" fill="#C8C8C8"/>
<rect x="400.0" y="470.0" width="6.7" height="8.3" fill="#3C3CFF"/>
<rect x="386.7" y="468.3" width="5.0" height="5.0" fill="#3C3CFF"/>
<polygon points="423.3,453.3 436.7,456.7 436.7,466.7 430.0,471.7 426.7,483.3 423.3,480.0 423.3,463.3" fill="#3C3CFF"/>
<polygon points="408.3,430.0 423.3,430.0 421.7,440.0 416.7,443.3 408.3,443.3" fill="#3C3CFF"/>
<rect x="428.3" y="436.7" width="15.0" height="10.0" fill="#3C3CFF"/>
<rect x="443.3" y="443.3" width="6.7" height="10.0" fill="#3C3CFF"/>
<polygon points="358.3,475.0 363.3,478.3 370.0,485.0 375.0,480.0 380.0,475.0 390.0,478.3 393.3,486.7 390.0,493.3 383.3,496.7 381.7,505.0 375.0,510.0 366.7,511.7 361.7,506.7 363.3,496.7 358.3,485.0" fill="#3C3CFF"/>
<polygon points="363.3,506.7 373.3,506.7 383.3,505.0 383.3,523.3 381.7,528.3 378.3,546.7 376.7,553.3 370.0,546.7 363.3,543.3 358.3,536.7 355.0,525.0 363.3,521.7 366.7,515.0" fill="#3C3CFF"/>
<rect x="363.3" y="533.3" width="6.7" height="3.3" fill="#C8C8C8"/>
<rect x="349.2" y="487.5" width="4.2" height="2.0" fill="#3C3CFF"/>
<rect x="383.3" y="530.0" width="6.7" height="5.0" fill="#3C3CFF"/>
<rect x="386.7" y="540.0" width="3.3" height="5.0" fill="#3C3CFF"/>
<rect x="396.7" y="545.0" width="3.3" height="8.3" fill="#3C3CFF"/>
<rect x="410.0" y="496.7" width="8.3" height="6.7" fill="#3C3CFF"/>
<polygon points="408.3,515.8 413.3,515.8 426.7,526.7 426.7,530.0 423.3,530.0 413.3,520.0" fill="#3C3CFF"/>
<rect x="423.3" y="510.0" width="5.0" height="10.0" fill="#3C3CFF"/>
<rect x="420.0" y="526.7" width="5.0" height="6.7" fill="#333333"/>
<rect x="423.3" y="538.3" width="2.5" height="6.7" fill="#3C3CFF"/>
<polygon points="423.3,503.3 433.3,501.7 443.3,481.7 450.0,481.7 450.0,510.0 440.0,510.0 426.7,508.3" fill="#3C3CFF"/>
<rect x="445.0" y="520.0" width="5.0" height="10.0" fill="#3C3CFF"/>
<rect x="438.3" y="515.8" width="6.7" height="2.5" fill="#3C3CFF"/>
<polygon points="391.7,563.3 403.3,558.3 406.7,563.3 403.3,573.3 413.3,576.7 413.3,580.0 396.7,580.0 393.3,571.7" fill="#3C3CFF"/>
<rect x="415.0" y="556.7" width="5.0" height="10.0" fill="#3C3CFF"/>
<polygon points="426.7,563.3 441.7,558.3 443.3,568.3 450.0,566.7 450.0,580.0 426.7,580.0" fill="#3C3CFF"/>
<rect x="375.0" y="563.3" width="3.3" height="2.5" fill="#3C3CFF"/>
<rect x="371.7" y="566.7" width="2.5" height="3.3" fill="#3C3CFF"/>
<rect x="355.0" y="530.0" width="3.3" height="3.3" fill="#FF8800"/>
<rect x="357.5" y="533.3" width="2.5" height="2.5" fill="#FF8800"/>
<rect x="405.0" y="571.7" width="2.5" height="2.5" fill="#FF8800"/>
<rect x="360.0" y="528.3" width="2.5" height="2.5" fill="#FFFF00"/>
<rect x="371.7" y="545.0" width="2.0" height="2.0" fill="#FFFF00"/>
<rect x="401.7" y="575.8" width="3.3" height="3.3" fill="#FFFF00"/>
<rect x="428.3" y="571.7" width="2.5" height="2.5" fill="#66FF00"/>
<rect x="433.3" y="573.3" width="4.2" height="3.3" fill="#66FF00"/>
<rect x="433.3" y="571.7" width="3.3" height="6.7" fill="#333333"/>
<polygon points="490.0,456.7 493.3,443.3 500.0,426.7 513.3,420.0 528.3,420.0 526.7,428.3 520.0,435.0 518.3,445.0 513.3,455.0 506.7,463.3 500.0,470.0 493.3,468.3 488.3,461.7" fill="#3C3CFF"/>
<rect x="503.3" y="436.7" width="6.7" height="3.3" fill="#C8C8C8"/>
<rect x="506.7" y="445.0" width="5.0" height="3.3" fill="#C8C8C8"/>
<polygon points="471.7,420.0 491.7,420.0 493.3,430.0 486.7,433.3 483.3,441.7 478.3,440.0 475.0,430.0 471.7,426.7" fill="#3C3CFF"/>
<polygon points="525.0,430.0 533.3,430.0 540.0,420.0 550.0,420.0 556.7,430.0 546.7,438.3 536.7,441.7 526.7,438.3" fill="#3C3CFF"/>
<polygon points="453.3,436.7 460.0,431.7 466.7,436.7 465.0,445.0 456.7,446.7 453.3,443.3" fill="#3C3CFF"/>
<rect x="466.7" y="448.3" width="6.7" height="13.3" fill="#3C3CFF"/>
<rect x="471.7" y="460.0" width="5.0" height="5.0" fill="#3C3CFF"/>
<polygon points="456.7,473.3 466.7,465.0 473.3,461.7 480.0,468.3 491.7,468.3 498.3,473.3 491.7,478.3 485.0,480.0 475.0,478.3 465.0,478.3 456.7,478.3" fill="#3C3CFF"/>
<polygon points="471.7,483.3 481.7,480.0 486.7,483.3 488.3,490.0 500.0,491.7 501.7,500.0 495.0,505.0 483.3,506.7 475.0,503.3 475.0,493.3 471.7,488.3" fill="#3C3CFF"/>
<polygon points="456.7,491.7 465.0,488.3 468.3,496.7 470.0,503.3 463.3,508.3 456.7,505.0" fill="#3C3CFF"/>
<rect x="473.3" y="505.0" width="18.3" height="5.0" fill="#3C3CFF"/>
<polygon points="458.3,513.3 473.3,513.3 471.7,520.0 463.3,526.7 456.7,525.0" fill="#3C3CFF"/>
<rect x="495.0" y="515.8" width="5.8" height="5.8" fill="#3C3CFF"/>
<rect x="463.3" y="546.7" width="5.0" height="13.3" fill="#3C3CFF"/>
<polygon points="450.0,555.0 455.0,555.0 458.3,566.7 455.0,570.0 450.0,570.0" fill="#3C3CFF"/>
<rect x="450.0" y="491.7" width="3.3" height="5.0" fill="#3C3CFF"/>
<rect x="450.0" y="518.3" width="2.5" height="3.3" fill="#3C3CFF"/>
<rect x="360.0" y="540.0" width="6.7" height="3.3" fill="#3C3CFF"/>
<polygon points="369.2,540.0 378.3,540.0 380.0,553.3 376.7,553.3 370.0,545.0" fill="#3C3CFF"/>
<rect x="388.3" y="540.0" width="2.5" height="4.2" fill="#3C3CFF"/>
<rect x="423.3" y="540.0" width="2.0" height="5.0" fill="#3C3CFF"/>
<rect x="397.5" y="545.0" width="3.3" height="10.0" fill="#3C3CFF"/>
<rect x="395.8" y="551.7" width="6.7" height="2.5" fill="#3C3CFF"/>
<polygon points="391.7,563.3 398.3,563.3 401.7,558.3 406.7,558.3 405.0,566.7 401.7,573.3 398.3,573.3 393.3,568.3" fill="#3C3CFF"/>
<rect x="414.2" y="555.8" width="5.8" height="10.8" fill="#3C3CFF"/>
<rect x="370.8" y="566.7" width="2.5" height="3.3" fill="#3C3CFF"/>
<rect x="375.0" y="563.3" width="3.3" height="1.7" fill="#3C3CFF"/>
<polygon points="389.2,581.7 396.7,580.8 401.7,575.0 406.7,573.3 413.3,575.8 413.3,583.3 410.0,588.3 408.3,598.3 403.3,601.7 395.0,600.0 390.0,596.7" fill="#3C3CFF"/>
<rect x="398.3" y="581.7" width="6.7" height="6.7" fill="#FF8800"/>
<rect x="395.0" y="596.7" width="5.0" height="3.3" fill="#FFC864"/>
<rect x="401.7" y="575.8" width="3.3" height="3.3" fill="#FFFF00"/>
<polygon points="429.2,563.3 436.7,561.7 441.7,558.3 443.3,563.3 450.0,558.3 453.3,555.0 456.7,565.0 446.7,573.3 440.0,576.7 433.3,580.0 430.0,576.7" fill="#3C3CFF"/>
<polygon points="463.3,545.0 466.7,546.7 470.0,555.0 471.7,558.3 468.3,561.7 465.0,553.3" fill="#3C3CFF"/>
<rect x="426.7" y="572.5" width="2.0" height="1.7" fill="#66FF00"/>
<rect x="435.0" y="573.3" width="3.3" height="2.5" fill="#66FF00"/>
<rect x="434.2" y="572.5" width="2.0" height="2.0" fill="#FFFF00"/>
<rect x="434.2" y="575.0" width="1.7" height="4.2" fill="#333333"/>
<rect x="470.0" y="230.0" width="100.0" height="100.0" fill="#C8C8C8"/>
<polygon points="506.7,249.4 514.4,248.9 516.7,244.4 527.8,242.2 534.4,240.0 536.7,245.6 532.2,252.2 530.0,257.8 525.6,262.2 521.1,266.7 527.8,267.8 532.2,272.2 536.7,274.4 541.1,277.8 543.3,281.1 536.7,282.2 530.0,280.0 525.6,276.7 521.1,276.7 516.7,272.2 510.0,271.1 503.3,268.9 497.8,266.7 495.6,262.2 501.1,260.0 506.7,256.7" fill="#3C3CFF"/>
<rect x="512.2" y="252.2" width="4.4" height="4.4" fill="#C8C8C8"/>
<rect x="518.9" y="250.0" width="3.3" height="3.3" fill="#C8C8C8"/>
<rect x="517.8" y="257.8" width="4.4" height="3.3" fill="#C8C8C8"/>
<rect x="510.0" y="262.2" width="5.6" height="3.3" fill="#C8C8C8"/>
<polygon points="536.7,241.1 541.1,234.4 547.8,230.0 554.4,236.7 558.9,234.4 565.6,236.7 567.8,243.3 558.9,247.8 556.7,254.4 558.9,263.3 554.4,270.0 547.8,272.2 538.9,270.0 534.4,265.6 532.2,258.9 536.7,252.2" fill="#3C3CFF"/>
<rect x="547.8" y="245.6" width="6.7" height="4.4" fill="#C8C8C8"/>
<rect x="538.9" y="261.1" width="4.4" height="3.3" fill="#C8C8C8"/>
<rect x="550.0" y="263.3" width="4.4" height="3.3" fill="#C8C8C8"/>
<rect x="554.4" y="241.1" width="4.4" height="4.4" fill="#C8C8C8"/>
<polygon points="470.0,258.9 473.3,261.1 476.7,265.6 481.1,264.4 482.2,268.9 476.7,272.2 472.2,276.7 476.7,278.9 481.1,282.2 476.7,285.6 470.0,287.8" fill="#3C3CFF"/>
<polygon points="486.7,272.2 492.2,268.9 498.9,270.0 505.6,271.1 512.2,274.4 518.9,276.7 523.3,281.1 530.0,285.6 531.1,290.0 525.6,294.4 523.3,298.9 527.8,301.1 525.6,305.6 516.7,310.0 514.4,314.4 505.6,317.8 496.7,318.9 490.0,321.1 483.3,323.3 476.7,327.8 476.7,321.1 480.0,314.4 482.2,305.6 485.6,298.9 487.8,292.2 490.0,285.6 488.9,278.9" fill="#3C3CFF"/>
<rect x="494.4" y="276.7" width="4.4" height="4.4" fill="#C8C8C8"/>
<rect x="501.1" y="282.2" width="5.6" height="3.3" fill="#C8C8C8"/>
<rect x="508.9" y="283.3" width="4.4" height="6.7" fill="#C8C8C8"/>
<rect x="516.7" y="287.8" width="4.4" height="3.3" fill="#C8C8C8"/>
<rect x="495.6" y="290.0" width="4.4" height="4.4" fill="#C8C8C8"/>
<rect x="503.3" y="296.7" width="6.7" height="4.4" fill="#C8C8C8"/>
<rect x="490.0" y="301.1" width="5.6" height="4.4" fill="#C8C8C8"/>
<rect x="508.9" y="302.2" width="6.7" height="4.4" fill="#C8C8C8"/>
<rect x="496.7" y="310.0" width="4.4" height="3.3" fill="#C8C8C8"/>
<polygon points="532.2,326.7 536.7,318.9 541.1,314.4 547.8,307.8 554.4,301.1 561.1,294.4 567.8,286.7 570.0,285.6 570.0,330.0 530.0,330.0" fill="#3C3CFF"/>
<rect x="547.8" y="314.4" width="5.6" height="3.3" fill="#C8C8C8"/>
<rect x="558.9" y="318.9" width="5.6" height="4.4" fill="#C8C8C8"/>
<rect x="538.9" y="322.2" width="4.4" height="3.3" fill="#C8C8C8"/>
<rect x="563.3" y="302.2" width="4.4" height="4.4" fill="#C8C8C8"/>
<polygon points="470.0,327.8 476.7,326.7 478.9,330.0 470.0,330.0" fill="#3C3CFF"/>
<rect x="490.0" y="241.1" width="4.4" height="2.8" fill="#3C3CFF"/>
<rect x="492.2" y="252.2" width="5.6" height="5.6" fill="#3C3CFF"/>
<rect x="470.0" y="282.2" width="4.4" height="3.3" fill="#3C3CFF"/>
<rect x="486.7" y="285.6" width="3.3" height="2.2" fill="#3C3CFF"/>
<rect x="511.1" y="311.1" width="4.4" height="4.4" fill="#333333"/>
<rect x="521.1" y="305.6" width="5.6" height="3.3" fill="#333333"/>
<rect x="542.2" y="295.6" width="5.6" height="2.2" fill="#333333"/>
<rect x="535.6" y="300.0" width="3.3" height="2.2" fill="#333333"/>
<rect x="558.9" y="280.0" width="3.3" height="2.2" fill="#333333"/>
<rect x="554.4" y="284.4" width="2.2" height="2.2" fill="#333333"/>
<rect x="564.4" y="311.1" width="2.2" height="3.3" fill="#333333"/>
<rect x="556.7" y="251.1" width="8.9" height="10.0" fill="#333333"/>
<rect x="557.8" y="261.1" width="3.3" height="4.4" fill="#333333"/>
<rect x="545.6" y="274.4" width="3.3" height="6.7" fill="#333333"/>
<rect x="521.1" y="317.8" width="3.3" height="3.3" fill="#FFC864"/>
<rect x="557.8" y="245.6" width="3.3" height="3.3" fill="#FFFF00"/>
<rect x="562.2" y="248.9" width="4.4" height="2.2" fill="#FFFF00"/>
<rect x="558.9" y="262.2" width="3.3" height="2.2" fill="#FFFF00"/>
<rect x="554.4" y="267.8" width="3.3" height="3.3" fill="#FFFF00"/>
<rect x="556.7" y="281.1" width="2.2" height="2.2" fill="#FFFF00"/>
<rect x="566.7" y="271.1" width="2.2" height="2.2" fill="#FFFF00"/>
<rect x="537.8" y="297.8" width="3.3" height="2.2" fill="#FFFF00"/>
<rect x="534.4" y="302.2" width="3.3" height="2.2" fill="#FFFF00"/>
<rect x="532.2" y="305.6" width="3.3" height="2.2" fill="#FFFF00"/>
<rect x="536.7" y="306.7" width="3.3" height="2.2" fill="#FFFF00"/>
<rect x="558.9" y="246.1" width="6.7" height="4.4" fill="#66FF00"/>
<rect x="541.1" y="243.9" width="3.3" height="2.2" fill="#66FF00"/>
<rect x="544.4" y="280.0" width="2.2" height="2.2" fill="#66FF00"/>
<rect x="532.2" y="308.9" width="3.3" height="2.2" fill="#66FF00"/>
<rect x="530.6" y="311.7" width="2.2" height="2.2" fill="#66FF00"/>
<rect x="536.7" y="305.6" width="2.2" height="2.2" fill="#66FF00"/>
<rect x="547.8" y="273.3" width="2.2" height="2.2" fill="#FFC864"/>
<rect x="538.9" y="307.2" width="2.2" height="2.2" fill="#FFC864"/>
<rect x="530.0" y="290.0" width="100.0" height="100.0" fill="#C8C8C8"/>
<polygon points="541.1,310.0 547.8,306.7 556.7,296.7 563.3,290.0 581.1,290.0 583.3,301.1 585.6,312.2 598.9,315.6 605.6,323.3 610.0,334.4 610.0,343.3 605.6,347.8 596.7,350.0 590.0,352.2 583.3,356.7 578.9,362.2 572.2,356.7 561.1,356.7 552.2,361.1 543.3,365.6 536.7,367.8 534.4,376.7 530.0,376.7 530.0,315.6" fill="#3C3CFF"/>
<rect x="566.7" y="306.7" width="6.7" height="4.4" fill="#C8C8C8"/>
<rect x="546.7" y="316.7" width="8.9" height="4.4" fill="#C8C8C8"/>
<rect x="561.1" y="316.7" width="13.3" height="3.3" fill="#C8C8C8"/>
<rect x="567.8" y="324.4" width="11.1" height="3.3" fill="#C8C8C8"/>
<rect x="532.2" y="326.7" width="5.6" height="4.4" fill="#C8C8C8"/>
<rect x="548.9" y="330.0" width="6.7" height="4.4" fill="#C8C8C8"/>
<rect x="541.1" y="338.9" width="11.1" height="3.3" fill="#C8C8C8"/>
<rect x="556.7" y="337.8" width="6.7" height="6.7" fill="#C8C8C8"/>
<rect x="534.4" y="344.4" width="6.7" height="4.4" fill="#C8C8C8"/>
<rect x="583.3" y="337.8" width="6.7" height="6.7" fill="#C8C8C8"/>
<rect x="592.2" y="333.3" width="6.7" height="5.6" fill="#C8C8C8"/>
<rect x="554.4" y="347.8" width="6.7" height="4.4" fill="#C8C8C8"/>
<rect x="530.0" y="352.2" width="4.4" height="6.7" fill="#C8C8C8"/>
<rect x="590.0" y="327.8" width="5.6" height="5.6" fill="#C8C8C8"/>
<polygon points="592.2,290.0 630.0,290.0 630.0,315.6 625.6,326.7 618.9,326.7 612.2,325.6 607.8,318.9 610.0,312.2 614.4,301.1 607.8,303.3 601.1,301.1 594.4,296.7" fill="#3C3CFF"/>
<rect x="601.1" y="292.2" width="6.7" height="4.4" fill="#C8C8C8"/>
<rect x="614.4" y="303.3" width="6.7" height="6.7" fill="#C8C8C8"/>
<rect x="621.1" y="314.4" width="4.4" height="4.4" fill="#C8C8C8"/>
<rect x="607.8" y="318.9" width="6.7" height="4.4" fill="#C8C8C8"/>
<polygon points="598.9,350.0 607.8,347.8 616.7,347.8 624.4,347.8 627.8,350.0 621.1,354.4 612.2,356.7 605.6,361.1 596.7,362.2 592.2,366.7 583.3,376.7 580.0,378.9 580.0,372.2 582.2,365.6 587.8,360.0 592.2,356.7" fill="#3C3CFF"/>
<polygon points="564.4,382.2 572.2,378.9 581.1,378.9 581.1,390.0 564.4,390.0" fill="#3C3CFF"/>
<rect x="558.9" y="367.8" width="3.3" height="2.2" fill="#3C3CFF"/>
<rect x="565.6" y="374.4" width="2.2" height="3.3" fill="#3C3CFF"/>
<rect x="572.2" y="370.0" width="4.4" height="4.4" fill="#3C3CFF"/>
<rect x="563.3" y="311.1" width="3.3" height="3.3" fill="#333333"/>
<rect x="530.0" y="361.1" width="5.6" height="2.2" fill="#333333"/>
<rect x="585.6" y="297.8" width="3.3" height="2.2" fill="#333333"/>
<rect x="541.1" y="296.1" width="6.7" height="2.2" fill="#333333"/>
<rect x="533.3" y="303.3" width="4.4" height="3.3" fill="#333333"/>
<rect x="536.7" y="297.8" width="4.4" height="2.2" fill="#FFFF00"/>
<rect x="543.3" y="296.7" width="2.2" height="2.2" fill="#FFFF00"/>
<rect x="532.2" y="305.6" width="4.4" height="2.2" fill="#FFFF00"/>
<rect x="534.4" y="302.2" width="2.2" height="2.2" fill="#FFFF00"/>
<rect x="530.0" y="311.1" width="2.2" height="2.2" fill="#66FF00"/>
<rect x="533.3" y="308.9" width="2.2" height="2.2" fill="#66FF00"/>
<rect x="594.4" y="293.3" width="3.3" height="3.3" fill="#66FF00"/>
<rect x="588.9" y="297.8" width="2.2" height="2.2" fill="#66FF00"/>
<rect x="544.4" y="298.3" width="2.2" height="2.2" fill="#FFC864"/>
<rect x="538.9" y="307.2" width="2.2" height="2.2" fill="#FFC864"/>
<rect x="440.0" y="320.0" width="100.0" height="100.0" fill="#C8C8C8"/>
<polygon points="457.8,334.4 463.3,333.3 466.7,337.8 475.6,335.6 478.9,342.2 486.7,341.1 488.9,347.8 482.2,354.4 476.7,358.9 475.6,366.7 473.3,375.6 474.4,382.2 480.0,382.2 486.7,383.3 488.9,388.9 486.7,395.6 486.7,402.2 483.3,397.8 480.0,391.1 476.7,388.9 473.3,382.2 472.2,373.3 471.1,364.4 465.6,357.8 463.3,353.3 464.4,347.8 460.0,340.0" fill="#3C3CFF"/>
<polygon points="484.4,331.1 492.2,326.7 500.0,327.8 506.7,325.6 517.8,326.7 524.4,324.4 528.9,320.0 540.0,320.0 540.0,355.6 533.3,353.3 526.7,350.0 520.0,347.8 515.6,353.3 511.1,360.0 506.7,360.0 500.0,356.7 497.8,351.1 491.1,352.2 486.7,348.9 486.7,340.0" fill="#3C3CFF"/>
<rect x="488.9" y="334.4" width="4.4" height="4.4" fill="#C8C8C8"/>
<rect x="502.2" y="333.3" width="6.7" height="6.7" fill="#C8C8C8"/>
<rect x="525.6" y="334.4" width="8.9" height="5.6" fill="#C8C8C8"/>
<rect x="506.7" y="343.3" width="6.7" height="3.3" fill="#C8C8C8"/>
<polygon points="506.7,364.4 515.6,362.2 520.0,356.7 528.9,358.9 537.8,355.6 540.0,356.7 540.0,370.0 531.1,375.6 524.4,381.1 517.8,386.7 517.8,393.3 508.9,397.8 502.2,400.0 495.6,397.8 497.8,391.1 502.2,384.4 506.7,380.0 508.9,373.3 504.4,368.9" fill="#3C3CFF"/>
<rect x="520.0" y="366.7" width="4.4" height="4.4" fill="#C8C8C8"/>
<rect x="504.4" y="375.6" width="5.6" height="4.4" fill="#C8C8C8"/>
<polygon points="511.1,406.7 517.8,404.4 524.4,411.1 526.7,420.0 511.1,420.0" fill="#3C3CFF"/>
<polygon points="484.4,420.0 486.7,411.1 491.1,406.7 497.8,408.9 502.2,415.6 502.2,420.0" fill="#3C3CFF"/>
<rect x="444.4" y="326.7" width="5.6" height="5.6" fill="#3C3CFF"/>
<rect x="455.6" y="324.4" width="2.2" height="2.2" fill="#3C3CFF"/>
<rect x="451.1" y="341.1" width="2.2" height="3.3" fill="#3C3CFF"/>
<rect x="441.1" y="387.8" width="4.4" height="5.6" fill="#3C3CFF"/>
<rect x="472.2" y="405.6" width="5.6" height="2.2" fill="#3C3CFF"/>
<rect x="500.0" y="358.9" width="3.3" height="3.3" fill="#3C3CFF"/>
<rect x="501.1" y="371.1" width="2.2" height="5.6" fill="#3C3CFF"/>
<rect x="494.4" y="376.7" width="2.2" height="2.2" fill="#3C3CFF"/>
<rect x="530.0" y="361.1" width="4.4" height="2.2" fill="#333333"/>
<rect x="519.4" y="320.0" width="2.2" height="2.8" fill="#333333"/>
<rect x="521.1" y="320.0" width="2.8" height="2.8" fill="#FFC864"/>
<rect x="440.0" y="410.0" width="100.0" height="100.0" fill="#C8C8C8"/>
<polygon points="484.4,410.0 502.2,410.0 506.7,414.4 512.2,410.0 524.4,410.0 522.2,416.7 517.8,427.8 520.0,436.7 517.8,445.6 515.6,452.2 511.1,456.7 506.7,463.3 502.2,470.0 497.8,474.4 493.3,470.0 488.9,461.1 490.0,450.0 493.3,443.3 495.6,434.4 502.2,427.8 493.3,430.0 491.1,423.3 484.4,427.8 482.2,432.2 482.2,441.1 477.8,436.7 475.6,427.8 482.2,421.1 486.7,414.4" fill="#3C3CFF"/>
<rect x="502.2" y="435.6" width="6.7" height="4.4" fill="#C8C8C8"/>
<rect x="504.4" y="442.2" width="4.4" height="3.3" fill="#C8C8C8"/>
<rect x="515.6" y="416.7" width="3.3" height="4.4" fill="#C8C8C8"/>
<rect x="491.1" y="413.3" width="6.7" height="4.4" fill="#C8C8C8"/>
<rect x="497.8" y="458.9" width="3.3" height="3.3" fill="#C8C8C8"/>
<polygon points="524.4,418.9 533.3,416.7 540.0,414.4 540.0,425.6 533.3,423.3 528.9,422.2" fill="#3C3CFF"/>
<polygon points="524.4,433.3 531.1,430.0 537.8,435.6 538.9,441.1 528.9,438.9 525.6,437.8" fill="#3C3CFF"/>
<rect x="511.1" y="452.2" width="4.4" height="4.4" fill="#3C3CFF"/>
<polygon points="455.6,438.9 462.2,435.6 466.7,441.1 468.9,447.8 473.3,448.9 474.4,456.7 473.3,460.0 468.9,457.8 464.4,456.7 463.3,450.0 460.0,446.7 455.6,445.6" fill="#3C3CFF"/>
<polygon points="456.7,473.3 462.2,470.0 468.9,465.6 474.4,461.1 475.6,467.8 480.0,466.7 486.7,470.0 493.3,470.0 495.6,473.3 491.1,476.7 486.7,478.9 482.2,480.0 477.8,478.9 473.3,476.7 468.9,473.3 463.3,474.4 460.0,478.9 456.7,478.9" fill="#3C3CFF"/>
<polygon points="472.2,484.4 480.0,481.1 484.4,480.0 488.9,487.8 493.3,490.0 501.1,492.2 501.1,498.9 493.3,503.3 484.4,501.1 477.8,494.4 473.3,490.0" fill="#3C3CFF"/>
<polygon points="440.0,487.8 443.3,482.2 447.8,482.2 451.1,487.8 452.2,496.7 447.8,503.3 444.4,505.6 440.0,505.6" fill="#3C3CFF"/>
<polygon points="456.7,492.2 462.2,487.8 465.6,490.0 468.9,497.8 468.9,505.6 462.2,508.9 456.7,505.6" fill="#3C3CFF"/>
<polygon points="471.1,504.4 482.2,502.2 493.3,504.4 490.0,510.0 471.1,510.0" fill="#3C3CFF"/>
<rect x="457.8" y="430.0" width="3.3" height="3.3" fill="#3C3CFF"/>
<rect x="464.4" y="416.7" width="3.3" height="3.3" fill="#3C3CFF"/>
<rect x="472.2" y="421.1" width="2.2" height="4.4" fill="#3C3CFF"/>
<rect x="481.1" y="447.8" width="2.2" height="3.3" fill="#3C3CFF"/>
<rect x="462.2" y="456.7" width="3.3" height="3.3" fill="#3C3CFF"/>
<rect x="340.0" y="410.0" width="100.0" height="100.0" fill="#C8C8C8"/>
<polygon points="340.0,410.0 350.0,410.0 348.9,418.9 347.8,427.8 344.4,436.7 340.0,436.7" fill="#3C3CFF"/>
<polygon points="362.2,418.9 368.9,415.6 375.6,414.4 380.0,416.7 382.2,423.3 377.8,427.8 380.0,432.2 373.3,430.0 367.8,427.8 362.2,422.2" fill="#3C3CFF"/>
<rect x="353.3" y="410.0" width="2.2" height="6.7" fill="#3C3CFF"/>
<rect x="384.4" y="427.8" width="2.2" height="2.2" fill="#3C3CFF"/>
<polygon points="386.7,416.7 397.8,414.4 402.2,421.1 393.3,427.8 388.9,424.4" fill="#3C3CFF"/>
<polygon points="405.6,410.0 411.1,410.0 411.1,421.1 408.9,432.2 406.7,438.9 405.6,426.7" fill="#3C3CFF"/>
<polygon points="417.8,410.0 422.2,410.0 421.1,418.9 420.0,427.8 417.8,426.7" fill="#3C3CFF"/>
<polygon points="411.1,443.3 417.8,437.8 422.2,430.0 424.4,432.2 422.2,441.1 417.8,445.6" fill="#3C3CFF"/>
<polygon points="427.8,441.1 432.2,435.6 437.8,437.8 434.4,443.3 428.9,445.6" fill="#3C3CFF"/>
<rect x="426.7" y="423.3" width="5.6" height="8.9" fill="#3C3CFF"/>
<polygon points="368.9,447.8 373.3,443.3 382.2,436.7 388.9,436.7 395.6,441.1 400.0,445.6 406.7,448.9 402.2,454.4 408.9,458.9 417.8,456.7 417.8,465.6 408.9,465.6 400.0,465.6 397.8,472.2 400.0,476.7 393.3,477.8 387.8,472.2 384.4,464.4 382.2,465.6 376.7,467.8 371.1,464.4 368.9,456.7" fill="#3C3CFF"/>
<rect x="374.4" y="445.6" width="5.6" height="4.4" fill="#C8C8C8"/>
<rect x="384.4" y="443.3" width="4.4" height="4.4" fill="#C8C8C8"/>
<rect x="382.2" y="452.2" width="6.7" height="6.7" fill="#C8C8C8"/>
<rect x="395.6" y="452.2" width="4.4" height="6.7" fill="#C8C8C8"/>
<rect x="388.9" y="467.8" width="4.4" height="3.3" fill="#C8C8C8"/>
<polygon points="423.3,454.4 428.9,453.3 437.8,457.8 435.6,463.3 431.1,470.0 428.9,472.2 424.4,472.2 423.3,463.3" fill="#3C3CFF"/>
<rect x="425.6" y="476.7" width="4.4" height="8.9" fill="#3C3CFF"/>
<polygon points="357.8,475.6 362.2,477.8 368.9,486.7 373.3,478.9 380.0,475.6 386.7,476.7 392.2,481.1 388.9,490.0 386.7,496.7 382.2,502.2 377.8,506.7 373.3,510.0 362.2,510.0 362.2,501.1 360.0,492.2 357.8,485.6" fill="#3C3CFF"/>
<rect x="360.0" y="483.3" width="3.3" height="4.4" fill="#C8C8C8"/>
<rect x="374.4" y="483.3" width="4.4" height="5.6" fill="#C8C8C8"/>
<rect x="377.8" y="494.4" width="4.4" height="4.4" fill="#C8C8C8"/>
<rect x="348.9" y="486.7" width="4.4" height="2.2" fill="#3C3CFF"/>
<polygon points="406.7,498.9 413.3,497.8 417.8,502.2 413.3,504.4 408.9,503.3" fill="#3C3CFF"/>
<polygon points="424.4,501.1 433.3,498.9 437.8,494.4 440.0,492.2 440.0,510.0 422.2,510.0" fill="#3C3CFF"/>
<rect x="304.4" y="330.0" width="95.6" height="100.0" fill="#C8C8C8"/>
<polygon points="306.7,345.6 312.2,343.3 315.6,336.7 318.9,333.3 321.1,330.0 324.4,330.0 322.2,335.6 316.7,342.2 315.6,350.0 314.4,363.3 312.2,370.0 313.3,381.1 308.9,382.2 306.7,374.4 304.4,366.7 304.4,355.6" fill="#3C3CFF"/>
<rect x="327.8" y="343.3" width="5.6" height="3.3" fill="#3C3CFF"/>
<rect x="324.4" y="352.2" width="6.7" height="3.3" fill="#3C3CFF"/>
<rect x="340.0" y="335.6" width="4.4" height="11.1" fill="#3C3CFF"/>
<rect x="348.9" y="332.2" width="2.2" height="6.7" fill="#3C3CFF"/>
<rect x="351.1" y="336.7" width="8.9" height="4.4" fill="#3C3CFF"/>
<rect x="348.9" y="343.3" width="2.2" height="2.2" fill="#3C3CFF"/>
<rect x="360.0" y="331.1" width="4.4" height="2.2" fill="#3C3CFF"/>
<polygon points="363.3,344.4 368.9,341.1 375.6,338.9 377.8,341.1 371.1,346.7 371.1,362.2 368.9,362.2 366.7,352.2 363.3,348.9" fill="#3C3CFF"/>
<rect x="392.2" y="346.7" width="3.3" height="3.3" fill="#3C3CFF"/>
<polygon points="393.3,356.7 397.8,345.6 400.0,344.4 400.0,363.3 393.3,363.3" fill="#3C3CFF"/>
<polygon points="342.2,377.8 348.9,374.4 355.6,363.3 358.9,365.6 360.0,374.4 362.2,378.9 362.2,394.4 357.8,396.7 353.3,398.9 347.8,396.7 344.4,393.3 342.2,385.6" fill="#3C3CFF"/>
<polygon points="327.8,387.8 332.2,386.7 337.8,392.2 343.3,398.9 342.2,403.3 335.6,405.6 332.2,407.8 330.0,398.9" fill="#3C3CFF"/>
<rect x="332.8" y="390.0" width="2.2" height="2.2" fill="#FFFF00"/>
<polygon points="322.2,421.1 331.1,412.2 340.0,407.8 348.9,403.3 355.6,396.7 357.8,396.7 360.0,405.6 355.6,414.4 348.9,418.9 348.9,430.0 322.2,430.0" fill="#3C3CFF"/>
<rect x="353.3" y="407.8" width="4.4" height="7.8" fill="#3C3CFF"/>
<polygon points="362.2,418.9 368.9,415.6 377.8,413.3 382.2,416.7 380.0,425.6 375.6,430.0 362.2,430.0" fill="#3C3CFF"/>
<polygon points="387.8,418.9 395.6,412.2 400.0,407.8 400.0,430.0 387.8,430.0" fill="#3C3CFF"/>
<rect x="393.3" y="376.7" width="2.2" height="5.6" fill="#3C3CFF"/>
<rect x="380.0" y="385.6" width="2.2" height="5.6" fill="#3C3CFF"/>
<rect x="386.7" y="393.3" width="5.6" height="3.3" fill="#3C3CFF"/>
<rect x="395.6" y="392.2" width="4.4" height="2.2" fill="#3C3CFF"/>
<rect x="310.0" y="406.7" width="3.3" height="2.2" fill="#3C3CFF"/>
<rect x="310.0" y="410.0" width="3.3" height="2.2" fill="#3C3CFF"/>
<rect x="540.4" y="175.3" width="32.9" height="56.9" fill="#C8C8C8"/>
<polygon points="564.4,177.1 571.1,177.1 571.1,178.9 566.2,178.9 566.2,196.7 556.4,196.7 556.4,205.6 553.8,205.6 552.0,209.1 547.6,216.2 547.6,250.0 544.0,250.0 544.0,224.2 541.3,223.8 541.3,222.0 544.0,221.6 544.0,215.3 546.7,208.2 550.2,201.1 552.9,196.7 557.3,193.1 559.1,188.7 562.7,186.0 564.4,186.0" fill="#3C3CFF"/>
<rect x="520.0" y="173.6" width="1.3" height="3.6" fill="#3C3CFF"/>
<rect x="529.8" y="182.9" width="2.2" height="3.1" fill="#3C3CFF"/>
<rect x="520.9" y="186.0" width="3.1" height="4.0" fill="#3C3CFF"/>
<rect x="520.9" y="197.1" width="3.1" height="1.8" fill="#3C3CFF"/>
<rect x="580.0" y="210.7" width="120.0" height="69.3" fill="#C8C8C8"/>
<polygon points="601.3,224.0 608.7,213.3 612.0,212.0 620.0,217.3 629.3,222.7 632.0,229.3 636.0,234.7 644.0,238.7 645.3,242.7 638.7,245.3 636.0,252.0 630.7,256.0 620.0,256.0 610.7,252.0 602.7,250.7 600.0,240.0" fill="#3C3CFF"/>
<rect x="607.3" y="228.0" width="14.7" height="4.0" fill="#C8C8C8"/>
<rect x="606.7" y="232.0" width="4.0" height="13.3" fill="#C8C8C8"/>
<rect x="610.7" y="242.7" width="20.0" height="3.3" fill="#C8C8C8"/>
<rect x="626.0" y="238.7" width="4.7" height="4.7" fill="#C8C8C8"/>
<rect x="614.7" y="236.0" width="6.7" height="3.3" fill="#C8C8C8"/>
<polygon points="589.3,269.3 597.3,261.3 604.0,258.7 612.0,258.7 620.0,261.3 628.0,258.7 636.0,253.3 644.0,250.7 654.7,250.7 665.3,252.0 662.7,258.7 652.0,261.3 644.0,258.7 638.7,262.7 633.3,269.3 630.7,277.3 620.0,280.0 610.7,277.3 601.3,272.0 592.0,273.3" fill="#3C3CFF"/>
<rect x="610.7" y="262.7" width="8.0" height="5.3" fill="#C8C8C8"/>
<rect x="618.7" y="266.7" width="5.3" height="5.3" fill="#C8C8C8"/>
<polygon points="652.0,253.3 662.7,252.0 665.3,256.0 660.0,261.3 654.7,261.3 652.0,258.7" fill="#3C3CFF"/>
<rect x="646.7" y="266.7" width="8.0" height="8.0" fill="#3C3CFF"/>
<rect x="658.7" y="276.0" width="4.0" height="4.0" fill="#3C3CFF"/>
<rect x="638.7" y="276.0" width="2.0" height="2.0" fill="#3C3CFF"/>
<rect x="600.0" y="277.3" width="4.0" height="2.7" fill="#3C3CFF"/>
<rect x="660.0" y="254.7" width="2.7" height="4.0" fill="#333333"/>
<rect x="654.0" y="260.0" width="4.0" height="2.0" fill="#333333"/>
<rect x="610.7" y="240.0" width="2.0" height="2.0" fill="#333333"/>
<rect x="593.3" y="225.3" width="8.0" height="5.3" fill="#333333"/>
<rect x="624.0" y="264.0" width="5.3" height="3.3" fill="#FFFF00"/>
<rect x="640.7" y="236.7" width="2.7" height="3.3" fill="#FFFF00"/>
<rect x="645.3" y="233.3" width="2.0" height="2.0" fill="#FFFF00"/>
<rect x="629.3" y="264.0" width="4.0" height="5.3" fill="#66FF00"/>
<rect x="642.7" y="235.3" width="2.7" height="2.0" fill="#66FF00"/>
<rect x="615.3" y="273.3" width="2.7" height="2.7" fill="#66FF00"/>
<rect x="588.0" y="271.3" width="2.7" height="2.7" fill="#66FF00"/>
<rect x="593.3" y="266.7" width="2.0" height="2.0" fill="#66FF00"/>
<rect x="600.0" y="228.0" width="2.0" height="3.3" fill="#FFC864"/>
<rect x="580.0" y="260.0" width="2.0" height="2.0" fill="#FFC864"/>
<rect x="279.5" y="240.0" width="60.5" height="90.0" fill="#C8C8C8"/>
<polygon points="286.1,241.9 288.9,240.0 296.5,240.0 295.6,244.7 291.8,245.7 291.8,253.3 297.5,256.1 290.8,258.0 286.1,247.6" fill="#3C3CFF"/>
<polygon points="297.5,256.1 305.0,253.3 307.9,262.7 310.7,255.2 316.4,255.2 317.4,260.8 323.0,263.7 325.9,268.4 327.8,279.8 324.9,285.5 326.8,293.0 325.9,300.6 323.0,304.4 314.5,306.3 309.8,310.1 306.9,314.8 299.4,314.8 298.4,312.0 294.6,310.1 292.7,293.0 293.7,287.4 294.6,271.3 298.4,260.8" fill="#3C3CFF"/>
<polygon points="301.3,280.7 309.8,273.2 316.4,273.2 315.5,279.8 311.7,287.4 307.9,291.2 306.9,296.8 300.3,293.0 298.4,285.5" fill="#C8C8C8"/>
<polygon points="284.2,281.7 288.9,272.2 291.8,276.0 291.8,279.8 289.9,283.6 288.0,289.3 284.2,287.4" fill="#3C3CFF"/>
<polygon points="286.1,264.6 291.8,258.0 297.5,256.1 298.4,260.8 303.2,265.6 306.0,270.3 302.2,272.2 296.5,270.3 294.6,274.1 295.6,277.9 291.8,279.8 289.9,283.6 294.6,289.3 293.7,292.1 288.9,292.1 287.1,289.3 284.2,281.7 284.2,271.3" fill="#333333"/>
<polygon points="296.5,293.0 300.3,296.8 304.1,299.7 306.9,302.5 308.8,308.2 306.0,312.0 298.4,312.0 293.7,310.1 295.6,306.3 298.4,304.4" fill="#333333"/>
<polygon points="276.6,297.8 281.4,297.8 285.2,300.6 289.9,300.6 286.1,302.5 286.1,308.2 282.3,308.2 279.5,304.4" fill="#333333"/>
<polygon points="294.6,313.9 300.3,314.8 304.1,315.8 313.6,315.8 315.5,318.6 309.8,320.5 303.2,321.5 297.5,323.4 294.6,319.6" fill="#333333"/>
<rect x="310.7" y="259.9" width="11.4" height="3.8" fill="#333333"/>
<rect x="323.0" y="289.3" width="1.4" height="1.9" fill="#333333"/>
<polygon points="279.5,310.1 285.2,310.1 288.9,314.8 285.2,316.7 280.4,312.9" fill="#3C3CFF"/>
<polygon points="315.5,315.8 323.0,315.8 324.0,319.6 321.2,325.3 319.3,330.0 315.5,321.5" fill="#3C3CFF"/>
<rect x="324.9" y="312.0" width="3.8" height="2.8" fill="#3C3CFF"/>
<rect x="336.3" y="311.0" width="3.7" height="2.8" fill="#3C3CFF"/>
<rect x="330.6" y="319.6" width="5.7" height="5.7" fill="#3C3CFF"/>
<rect x="326.8" y="325.3" width="3.8" height="2.8" fill="#3C3CFF"/>
<rect x="277.6" y="320.5" width="5.7" height="0.9" fill="#3C3CFF"/>
<rect x="306.0" y="289.3" width="1.9" height="2.8" fill="#C8C8C8"/>
<rect x="210.0" y="125.0" width="110.0" height="92.9" fill="#C8C8C8"/>
<rect x="210.0" y="217.9" width="68.5" height="17.1" fill="#C8C8C8"/>
<rect x="239.3" y="136.0" width="2.4" height="2.4" fill="#3C3CFF"/>
<rect x="243.6" y="139.1" width="1.8" height="1.8" fill="#3C3CFF"/>
<rect x="247.9" y="139.1" width="2.4" height="2.4" fill="#3C3CFF"/>
<rect x="252.2" y="140.9" width="1.8" height="1.8" fill="#3C3CFF"/>
<rect x="234.4" y="143.3" width="2.4" height="4.3" fill="#3C3CFF"/>
<rect x="238.7" y="145.2" width="2.4" height="2.4" fill="#3C3CFF"/>
<rect x="243.0" y="147.6" width="2.4" height="1.8" fill="#3C3CFF"/>
<rect x="245.5" y="145.2" width="2.4" height="2.4" fill="#3C3CFF"/>
<rect x="240.6" y="149.4" width="2.4" height="2.4" fill="#3C3CFF"/>
<rect x="245.5" y="150.1" width="2.4" height="1.8" fill="#3C3CFF"/>
<rect x="236.3" y="147.6" width="3.7" height="4.3" fill="#66FF00"/>
<rect x="247.9" y="150.1" width="1.8" height="1.8" fill="#66FF00"/>
<rect x="236.3" y="151.9" width="4.9" height="4.9" fill="#3C3CFF"/>
<rect x="241.2" y="153.7" width="1.8" height="2.4" fill="#3C3CFF"/>
<rect x="244.8" y="159.2" width="3.1" height="1.8" fill="#3C3CFF"/>
<rect x="250.3" y="161.1" width="3.7" height="1.8" fill="#3C3CFF"/>
<polygon points="244.8,161.1 250.3,162.3 252.8,165.3 256.5,168.4 260.1,169.0 262.6,171.5 262.6,177.6 258.9,178.8 256.5,173.9 254.0,170.2 250.3,166.6 246.7,164.1" fill="#66FF00"/>
<rect x="251.6" y="166.6" width="3.1" height="3.1" fill="#3C3CFF"/>
<rect x="254.0" y="168.4" width="2.4" height="2.4" fill="#3C3CFF"/>
<rect x="256.5" y="171.5" width="2.4" height="1.8" fill="#3C3CFF"/>
<rect x="257.1" y="172.1" width="1.8" height="2.4" fill="#333333"/>
<rect x="259.5" y="173.9" width="3.1" height="3.7" fill="#33CC00"/>
<rect x="258.9" y="176.3" width="6.7" height="2.4" fill="#3C3CFF"/>
<rect x="258.9" y="178.8" width="4.3" height="6.7" fill="#3C3CFF"/>
<rect x="260.1" y="187.3" width="7.3" height="3.7" fill="#3C3CFF"/>
<rect x="258.9" y="189.8" width="4.9" height="2.4" fill="#3C3CFF"/>
<rect x="271.7" y="183.1" width="7.3" height="3.1" fill="#3C3CFF"/>
<rect x="272.3" y="186.1" width="3.1" height="2.4" fill="#3C3CFF"/>
<rect x="271.7" y="189.8" width="4.9" height="2.4" fill="#3C3CFF"/>
<rect x="272.3" y="192.2" width="3.1" height="3.7" fill="#3C3CFF"/>
<rect x="274.8" y="195.3" width="1.8" height="1.8" fill="#3C3CFF"/>
<polygon points="228.3,172.1 230.2,172.1 230.2,182.5 232.0,183.7 232.0,187.3 228.3,189.8 223.4,189.8 224.7,182.5 227.1,180.0" fill="#3C3CFF"/>
<rect x="223.4" y="183.1" width="1.8" height="4.9" fill="#333333"/>
<rect x="277.2" y="161.1" width="1.8" height="1.8" fill="#3C3CFF"/>
<rect x="243.0" y="210.0" width="2.4" height="3.7" fill="#3C3CFF"/>
<rect x="244.2" y="213.0" width="3.7" height="1.8" fill="#3C3CFF"/>
<polygon points="280.9,219.1 288.2,219.1 290.7,222.8 294.4,225.2 294.4,228.9 291.9,235.0 287.0,235.0 288.2,228.9 284.6,224.0" fill="#3C3CFF"/>
<rect x="295.0" y="205.7" width="2.4" height="2.4" fill="#3C3CFF"/>
<rect x="296.8" y="210.6" width="1.8" height="4.9" fill="#3C3CFF"/>
<rect x="295.6" y="216.7" width="3.7" height="4.9" fill="#3C3CFF"/>
<rect x="299.2" y="224.0" width="1.8" height="3.7" fill="#3C3CFF"/>
<rect x="340.0" y="500.0" width="100.0" height="110.0" fill="#C8C8C8"/>
<polygon points="355.0,522.0 358.5,520.8 362.0,506.9 370.1,501.2 386.3,500.0 384.0,506.9 374.7,512.7 371.2,520.8 363.1,526.6 355.0,526.6" fill="#3C3CFF"/>
<polygon points="358.5,528.9 368.9,526.6 374.7,522.0 381.7,513.9 381.7,528.9 375.9,530.1 378.2,538.2 379.9,546.3 379.4,553.2 374.7,548.6 367.8,544.0 363.1,540.5 358.5,534.7" fill="#3C3CFF"/>
<rect x="382.8" y="531.2" width="5.8" height="4.6" fill="#3C3CFF"/>
<rect x="387.5" y="539.4" width="3.5" height="4.6" fill="#3C3CFF"/>
<rect x="396.7" y="545.1" width="4.6" height="10.4" fill="#3C3CFF"/>
<polygon points="409.4,516.2 414.1,516.2 421.0,523.1 426.8,526.6 425.6,531.2 421.0,531.2 419.9,524.3 411.8,519.7" fill="#3C3CFF"/>
<rect x="423.3" y="511.6" width="5.8" height="10.4" fill="#3C3CFF"/>
<rect x="423.3" y="539.9" width="1.7" height="4.6" fill="#3C3CFF"/>
<rect x="414.1" y="556.7" width="5.8" height="10.4" fill="#3C3CFF"/>
<rect x="438.4" y="516.2" width="1.6" height="3.5" fill="#3C3CFF"/>
<polygon points="390.9,563.7 395.6,562.5 402.5,557.9 407.1,559.0 403.7,564.8 401.3,574.1 409.4,575.2 414.1,578.7 411.8,583.3 409.4,592.6 407.1,599.5 400.2,601.9 390.9,600.7 388.6,590.3 389.8,581.0 395.6,581.0 399.0,575.2 394.4,569.4" fill="#3C3CFF"/>
<rect x="390.9" y="588.0" width="5.8" height="9.3" fill="#C8C8C8"/>
<rect x="403.1" y="585.6" width="4.1" height="8.1" fill="#C8C8C8"/>
<rect x="397.9" y="581.0" width="6.9" height="6.9" fill="#FF8800"/>
<rect x="399.0" y="591.4" width="3.5" height="3.5" fill="#FFC864"/>
<rect x="393.2" y="597.2" width="4.6" height="2.3" fill="#FFC864"/>
<rect x="401.9" y="575.2" width="3.5" height="3.5" fill="#FFFF00"/>
<rect x="405.4" y="572.3" width="1.7" height="1.7" fill="#FF8800"/>
<rect x="355.0" y="530.7" width="2.9" height="3.5" fill="#FF8800"/>
<rect x="358.5" y="534.1" width="1.7" height="1.7" fill="#FF8800"/>
<rect x="360.3" y="528.9" width="1.7" height="2.3" fill="#FFFF00"/>
<rect x="371.2" y="545.1" width="1.7" height="2.3" fill="#FFFF00"/>
<rect x="374.7" y="563.1" width="3.5" height="1.7" fill="#3C3CFF"/>
<rect x="371.2" y="567.1" width="1.7" height="2.3" fill="#3C3CFF"/>
<rect x="423.3" y="567.1" width="4.6" height="4.6" fill="#3C3CFF"/>
<rect x="410.6" y="500.0" width="6.9" height="3.5" fill="#3C3CFF"/>
<rect x="423.3" y="500.0" width="16.7" height="6.9" fill="#3C3CFF"/>
<polygon points="429.1,563.7 436.1,561.3 440.0,561.3 440.0,581.0 432.6,583.3 430.3,576.4" fill="#3C3CFF"/>
<rect x="428.0" y="572.3" width="1.7" height="1.7" fill="#66FF00"/>
<rect x="434.9" y="574.1" width="4.6" height="2.9" fill="#66FF00"/>
<rect x="432.6" y="569.4" width="2.3" height="9.3" fill="#333333"/>
<rect x="433.8" y="572.3" width="1.7" height="1.7" fill="#FFFF00"/>
<rect x="419.9" y="526.6" width="3.5" height="6.9" fill="#333333"/>
<rect x="450.0" y="120.0" width="93.3" height="100.0" fill="#C8C8C8"/>
<rect x="543.3" y="120.0" width="26.7" height="56.0" fill="#C8C8C8"/>
<rect x="464.7" y="147.3" width="6.7" height="3.3" fill="#3C3CFF"/>
<rect x="470.0" y="145.3" width="2.0" height="4.0" fill="#3C3CFF"/>
<rect x="470.0" y="150.0" width="2.0" height="4.0" fill="#66FF00"/>
<rect x="474.0" y="150.0" width="7.3" height="4.0" fill="#66FF00"/>
<rect x="476.0" y="152.0" width="4.7" height="2.0" fill="#FFFF00"/>
<rect x="483.3" y="150.0" width="2.0" height="2.0" fill="#FFFF00"/>
<polygon points="463.3,153.3 468.7,154.7 471.3,158.7 467.3,160.0 463.3,160.0" fill="#3C3CFF"/>
<rect x="470.7" y="154.0" width="3.3" height="3.3" fill="#3C3CFF"/>
<polygon points="480.7,148.7 487.3,148.0 491.3,152.0 491.3,165.3 488.7,168.0 487.3,176.0 483.3,176.0 480.7,173.3 484.7,170.7 486.0,164.0 488.7,161.3 488.7,153.3 482.0,152.0" fill="#3C3CFF"/>
<rect x="479.3" y="174.7" width="4.0" height="4.0" fill="#3C3CFF"/>
<rect x="474.7" y="177.3" width="2.0" height="5.3" fill="#3C3CFF"/>
<polygon points="454.0,174.7 458.0,169.3 462.7,168.7 462.7,172.0 459.3,172.7 459.3,182.7 472.7,182.7 474.0,177.3 476.0,177.3 475.3,184.0 470.0,186.7 456.7,186.7 454.0,184.0" fill="#3C3CFF"/>
<rect x="454.0" y="173.3" width="6.0" height="9.3" fill="#66FF00"/>
<rect x="458.0" y="172.0" width="3.3" height="2.7" fill="#FFFF00"/>
<rect x="470.0" y="181.3" width="2.0" height="2.0" fill="#FFC864"/>
<rect x="472.0" y="192.0" width="4.0" height="4.7" fill="#3C3CFF"/>
<rect x="495.3" y="160.0" width="2.7" height="5.3" fill="#3C3CFF"/>
<rect x="500.7" y="162.7" width="3.3" height="5.3" fill="#3C3CFF"/>
<polygon points="496.7,145.3 503.3,141.3 508.7,140.0 515.3,140.0 515.3,146.7 519.3,142.7 523.3,141.3 530.0,140.0 531.3,136.0 535.3,137.3 538.0,140.0 532.7,146.7 527.3,150.7 535.3,152.0 538.0,153.3 532.7,158.7 527.3,157.3 522.0,160.0 516.7,162.7 512.7,165.3 506.0,166.7 502.0,164.0 503.3,158.7 508.7,160.0 511.3,154.7 506.0,149.3 499.3,148.0" fill="#3C3CFF"/>
<rect x="511.3" y="148.0" width="5.3" height="4.0" fill="#C8C8C8"/>
<rect x="519.3" y="148.0" width="5.3" height="4.0" fill="#C8C8C8"/>
<rect x="525.3" y="150.0" width="3.3" height="3.3" fill="#C8C8C8"/>
<rect x="502.7" y="146.0" width="4.0" height="3.3" fill="#C8C8C8"/>
<rect x="524.0" y="143.3" width="4.0" height="3.3" fill="#C8C8C8"/>
<rect x="530.0" y="146.0" width="3.3" height="4.0" fill="#C8C8C8"/>
<rect x="506.7" y="156.7" width="4.7" height="2.7" fill="#C8C8C8"/>
<rect x="516.7" y="154.7" width="4.0" height="3.3" fill="#C8C8C8"/>
<rect x="512.7" y="170.0" width="3.3" height="4.0" fill="#C8C8C8"/>
<polygon points="510.0,168.0 516.7,164.0 522.0,162.7 526.0,164.0 523.3,168.0 518.0,173.3 516.7,178.7 512.7,182.7 510.0,177.3" fill="#3C3CFF"/>
<rect x="500.7" y="182.7" width="2.7" height="5.3" fill="#3C3CFF"/>
<rect x="520.7" y="185.3" width="3.3" height="4.0" fill="#3C3CFF"/>
<rect x="530.0" y="182.7" width="2.0" height="3.3" fill="#3C3CFF"/>
<rect x="522.0" y="196.7" width="2.7" height="2.7" fill="#3C3CFF"/>
<rect x="511.3" y="200.0" width="6.7" height="8.0" fill="#3C3CFF"/>
<rect x="480.7" y="214.7" width="8.0" height="5.3" fill="#3C3CFF"/>
<rect x="450.0" y="160.0" width="3.3" height="2.7" fill="#3C3CFF"/>
<rect x="442.7" y="252.0" width="37.3" height="40.0" fill="#C8C8C8"/>
<polygon points="453.3,260.0 456.0,260.0 457.3,270.7 461.3,265.3 464.0,260.0 466.7,254.7 470.7,254.7 473.3,260.0 470.7,266.7 474.7,265.3 477.3,262.7 480.0,265.3 480.0,281.3 474.7,281.3 469.3,276.0 465.3,276.0 461.3,277.3 456.0,276.0 453.3,273.3" fill="#3C3CFF"/>
<rect x="464.0" y="266.7" width="3.3" height="4.0" fill="#C8C8C8"/>
<rect x="441.3" y="257.3" width="2.7" height="2.7" fill="#3C3CFF"/>
<rect x="434.7" y="268.0" width="2.7" height="2.7" fill="#3C3CFF"/>
<rect x="440.0" y="266.7" width="2.7" height="2.7" fill="#3C3CFF"/>
<rect x="446.7" y="268.0" width="2.7" height="2.7" fill="#3C3CFF"/>
<rect x="458.7" y="289.3" width="4.0" height="2.7" fill="#3C3CFF"/>
<rect x="470.7" y="282.7" width="2.7" height="2.7" fill="#3C3CFF"/>
<rect x="452.0" y="245.3" width="2.7" height="4.0" fill="#3C3CFF"/>
</g>
</svg>
<svg width="900" height="950" viewBox="0 0 900 950">
<polyline points="326.7,186.7 332.2,200.6 337.8,215.8 343.3,215.8 346.1,222.8 348.9,236.7 354.4,253.3 355.8,263.1 351.7,267.2 357.2,278.3 356.0,280.0 351.3,289.3 343.5,301.8" fill="none" stroke="#000" stroke-width="1.1"/>
<polyline points="340.6,215.8 323.9,222.8 318.3,226.9 315.6,222.8 307.2,225.6 304.4,233.9 293.3,238.1 293.7,240.0 289.9,244.7 290.8,249.5 292.7,255.2 290.8,259.9 279.5,260.4" fill="none" stroke="#000" stroke-width="1.1"/>
<polyline points="384.0,183.3 384.0,191.3 378.7,195.3 377.3,199.3 380.0,203.3 390.7,204.7 394.7,207.3 396.0,214.0 404.4,220.0 410.0,225.6 418.3,239.4 435.0,238.1 434.7,249.3 426.7,257.3 425.3,265.3 430.7,270.7 428.0,276.0 421.3,284.0 418.7,286.7 410.7,289.3 400.0,292.0 392.0,281.3 386.7,274.7 374.7,273.3 360.0,264.0" fill="none" stroke="#000" stroke-width="1.1"/>
<polyline points="430.6,294.0 440.0,295.6" fill="none" stroke="#000" stroke-width="1.1"/>
<polyline points="434.7,249.3 442.7,252.0 448.0,257.3" fill="none" stroke="#000" stroke-width="1.1"/>
<polyline points="340.0,299.7 339.1,301.6 326.8,301.6 323.0,305.4 321.2,300.6 313.6,300.6 306.0,302.5 298.4,306.3 290.8,309.1 289.9,312.0 287.1,315.8 282.3,307.3 277.6,301.6" fill="none" stroke="#000" stroke-width="1.1"/>
<polyline points="295.6,312.0 296.5,314.8 300.3,317.7 304.1,314.8 313.6,312.9 323.0,315.8 324.0,318.6 320.2,323.4 319.3,330.0 318.3,335.0 315.6,339.4 314.2,356.1 304.4,356.7" fill="none" stroke="#000" stroke-width="1.1"/>
<polyline points="343.5,301.8 349.8,311.1 351.3,317.3 348.2,322.0 356.0,329.8 359.1,336.0 362.2,332.9 363.8,325.1 371.5,325.1 373.1,329.8 377.8,332.9 380.9,342.2 385.5,339.1 393.3,337.5 398.0,326.7 402.6,325.1 408.9,328.2 413.5,315.8 413.5,309.5 424.4,295.6 430.6,294.0 422.9,287.8 418.7,286.7" fill="none" stroke="#000" stroke-width="1.1"/>
<polyline points="413.5,309.5 424.4,320.4 429.1,326.7 435.3,334.4 433.7,342.2 432.2,351.5 433.7,364.0 418.2,368.6 414.4,370.0 410.0,375.6 416.7,383.3 418.9,390.0 417.8,392.2 410.0,391.1 403.3,393.3 398.9,400.0 396.7,406.7 392.2,413.3 385.6,416.7 384.4,411.1 387.8,404.4 386.7,400.0 381.1,397.8 377.8,393.3 372.2,390.0 370.0,382.2 362.2,376.4 359.1,373.3 363.8,367.1 362.2,357.8 365.3,353.1 363.8,345.3 362.2,332.9" fill="none" stroke="#000" stroke-width="1.1"/>
<polyline points="359.1,373.3 346.7,388.9 340.4,406.0 331.1,415.3 323.3,418.4 302.2,418.9" fill="none" stroke="#000" stroke-width="1.1"/>
<polyline points="398.9,400.0 407.8,398.9 412.2,403.3 412.2,414.4 410.0,425.6 407.8,436.7 406.7,443.3 413.3,443.3 416.7,438.9 421.1,430.0 424.4,421.1 427.8,420.0 432.2,425.6 432.2,432.2 436.7,436.7 443.3,437.8 447.8,444.4 452.2,447.8 454.4,445.6 453.3,438.9 457.8,434.4 466.7,430.0 463.3,424.4 470.0,417.8" fill="none" stroke="#000" stroke-width="1.1"/>
<polyline points="562.0,74.0 562.7,83.3 566.7,91.3 573.3,103.3 568.7,111.3 573.3,118.0 570.7,134.0 558.0,135.3 548.7,144.0 543.3,152.0 538.0,158.7 532.7,154.7 524.7,158.7 516.7,165.3 511.3,169.3 504.7,169.3 499.3,180.0 494.0,178.7 488.7,181.3" fill="none" stroke="#000" stroke-width="1.1"/>
<polyline points="450.0,149.3 458.0,150.7 464.7,153.3 470.0,157.3 472.7,165.3 476.7,169.3 482.0,173.3 484.7,181.3 490.0,182.7 495.3,186.7 500.7,198.7 506.0,196.0 515.3,200.0 512.7,206.7 512.7,213.3 523.3,212.5 534.4,219.4 538.6,227.8 537.2,244.4 528.9,261.1 530.0,270.9 534.7,274.0 539.3,274.0 545.6,272.4 550.2,273.2 553.3,274.0 559.6,274.8" fill="none" stroke="#000" stroke-width="1.1"/>
<polyline points="513.6,211.1 506.7,216.7 487.2,225.0 480.0,230.7 473.3,232.0 466.7,237.3 461.3,248.0 453.3,252.0 448.0,257.3 445.3,262.7 442.7,273.3 448.0,281.3 456.0,276.0 461.3,281.3 469.3,289.3 475.0,304.4 469.4,315.6 466.7,323.9 473.6,332.2 483.3,329.4" fill="none" stroke="#000" stroke-width="1.1"/>
<polyline points="441.7,276.0 441.7,276.0" fill="none" stroke="#000" stroke-width="1.1"/>
<polyline points="592.8,226.4 581.7,236.1 576.1,244.4 570.6,255.6 565.0,260.0 565.4,263.9 561.9,267.8 559.6,270.9 559.6,274.8 556.4,275.6 555.7,277.9 551.0,280.2 548.7,283.3 548.7,288.0 550.2,289.6 554.1,288.8 560.3,288.8 564.2,292.7 568.1,292.7 572.0,295.8 577.4,297.3 579.8,300.4 581.3,308.2 584.4,313.7 590.7,314.4 593.8,311.3 600.0,312.1 603.3,323.3 613.3,328.3 626.7,328.3" fill="none" stroke="#000" stroke-width="1.1"/>
<polyline points="483.3,329.4 497.2,323.9 511.1,318.3 522.2,312.8 530.0,299.7 534.7,295.0 539.3,291.1 543.2,288.8 544.0,284.9 545.6,283.3 547.1,275.6" fill="none" stroke="#000" stroke-width="1.1"/>
<polyline points="626.7,328.3 629.0,323.0" fill="none" stroke="#000" stroke-width="1.1"/>
<polyline points="483.3,329.4 488.9,343.3 483.3,357.2 488.9,371.1 494.4,396.1 505.6,404.4 516.7,401.7 530.6,398.9 538.9,404.4 544.4,410.0 555.6,415.6 566.7,418.3" fill="none" stroke="#000" stroke-width="1.1"/>
<polyline points="494.4,396.1 488.9,404.4 477.8,412.8 470.0,417.8" fill="none" stroke="#000" stroke-width="1.1"/>
<polyline points="447.8,444.4 442.2,450.0 441.1,460.0 437.8,468.9 428.9,484.4 422.2,495.6 422.2,506.2" fill="none" stroke="#000" stroke-width="1.1"/>
<polyline points="351.6,528.9 353.9,527.8 360.8,526.6 370.1,524.3 374.7,520.8 379.4,513.9 384.0,508.1 390.9,504.6 401.3,502.3 402.5,500.0 406.0,492.0 411.0,488.0 418.0,492.0 424.0,506.0 440.0,510.0 460.0,508.0 480.0,504.0 504.0,498.0 516.0,500.0" fill="none" stroke="#000" stroke-width="1.1"/>
<polygon points="231.4,136.0 238.1,133.6 246.7,134.8 249.1,137.2 254.0,133.6 258.9,134.8 261.3,138.4 268.7,139.7 276.0,140.9 283.3,139.7 289.5,144.6 298.0,147.6 300.5,150.7 301.7,156.8 305.4,160.5 305.4,169.0 301.7,172.7 304.1,176.3 306.6,182.5 307.8,188.6 310.2,194.7 315.1,189.8 320.0,188.6 326.7,185.8 336.7,186.7 347.3,192.7 353.3,192.7 354.7,189.3 364.0,186.7 372.0,188.0 378.0,182.7 384.0,183.1 396.0,190.7 406.7,187.3 410.7,177.3 417.3,175.3 421.3,177.3 426.0,181.3 433.3,176.0 438.7,174.7 446.7,163.3 450.0,156.7 451.7,150.6 448.3,126.1 452.8,110.6 454.7,109.3 459.3,106.7 460.7,103.3 460.0,97.3 458.7,90.0 456.0,83.3 454.0,77.3 457.0,72.7 458.7,66.3 462.7,68.0 466.7,69.0 470.7,70.7 476.3,72.0 480.0,77.3 483.3,82.0 488.0,86.7 493.3,91.3 500.0,94.0 513.3,91.3 517.3,88.7 518.7,82.0 524.0,73.3 532.0,78.0 544.0,77.3 561.3,74.0 562.7,67.3 568.0,62.7 572.7,62.7 577.3,66.7 584.0,65.3 585.3,72.7 592.0,78.0 596.0,83.3 604.0,88.7 600.0,95.3 596.0,111.3 590.7,116.7 588.7,126.0 580.0,140.7 574.7,150.0 578.7,156.7 585.3,158.0 593.3,152.7 600.0,148.7 601.3,154.0 593.3,162.0 585.3,166.0 579.4,176.1 579.4,188.3 576.7,190.0 570.8,200.8 578.3,204.2 580.8,211.7 590.0,221.7 591.7,224.2 600.0,220.0 611.7,210.0 626.7,220.0 631.7,225.0 631.7,230.0 638.3,234.0 645.8,229.2 651.7,234.2 666.7,232.5 680.0,230.0 681.7,230.8 675.8,240.0 668.3,249.2 673.3,255.0 678.3,258.3 678.3,270.0 681.7,276.7 678.3,283.3 681.7,288.3 673.3,293.3 680.0,300.0 676.7,303.3 660.0,308.3 655.0,305.0 650.0,310.0 640.0,313.3 633.3,316.7 628.3,323.3 626.7,328.3 633.3,333.3 638.7,335.7 634.9,343.2 623.6,348.9 612.2,358.3 600.9,364.0 597.1,369.7 593.3,365.9 585.8,373.4 582.9,379.1 582.9,388.6 574.4,394.2 570.7,405.6 565.9,415.9 570.7,424.4 571.6,433.9 568.8,435.8 563.1,430.1 555.6,430.1 551.8,433.9 548.0,443.3 544.2,450.9 534.8,458.4 531.0,467.9 527.2,479.2 522.2,485.6 525.6,491.1 521.1,497.8 515.6,501.1 514.4,507.8 507.8,515.6 496.7,522.2 487.8,528.9 484.4,537.8 481.1,543.3 481.1,552.2 476.7,556.7 470.0,557.8 463.3,562.2 458.9,568.9 452.2,572.2 443.3,575.6 439.5,579.9 432.6,582.2 428.0,578.7 423.3,578.7 419.9,585.6 414.1,591.4 409.4,594.9 409.4,603.0 407.1,605.3 404.8,604.2 400.2,603.0 395.6,604.2 389.8,601.9 382.8,600.7 383.4,598.4 382.8,588.0 379.4,583.3 374.7,578.7 368.9,576.4 365.5,571.8 360.8,561.3 357.4,552.1 352.7,546.3 351.6,535.9 344.6,528.9 342.3,520.8 340.0,511.6 333.4,505.4 330.4,498.0 323.8,489.9 328.2,484.0 320.9,474.4 318.7,470.0 310.7,461.1 308.8,440.3 301.2,428.9 301.2,398.6 303.1,389.1 300.2,372.0 301.2,356.9 302.1,345.5 305.0,337.9 303.2,330.0 302.2,327.1 297.5,322.4 292.7,323.4 289.9,322.4 287.1,323.4 283.3,319.6 277.6,320.5 270.9,320.5 270.9,310.1 273.8,309.1 277.6,306.3 277.6,301.6 273.8,296.8 274.7,293.0 272.8,284.5 275.7,277.9 277.6,268.4 281.4,263.7 279.5,259.9 282.3,258.9 282.3,253.3 280.4,248.5 275.7,245.7 276.6,241.9 270.0,241.9 264.0,238.0 261.3,235.0 260.1,227.7 257.7,222.8 249.1,217.9 243.0,215.5 240.6,210.6 239.3,203.2 234.4,199.6 230.8,192.2 228.3,190.4 222.2,189.8 217.9,187.3 217.3,181.2 222.2,175.1 227.1,172.7 228.3,165.3 230.8,159.2 229.6,156.8 229.6,150.7 233.2,148.2 230.8,142.1" fill="none" stroke="#000" stroke-width="2.2" stroke-linejoin="round"/>
</svg>
<div class="t" style="left:20.5px;top:18.5px;font-size:32px;font-weight:bold;transform:scaleX(0.925);transform-origin:0 0;">Burundi</div>
<div class="t" style="left:20px;top:657px;font-size:17.7px;font-weight:bold;transform:scaleX(1.05);transform-origin:0 0;">Mean Vegetation Health Index (VHI)</div>
<div class="t" style="left:20px;top:687px;font-size:17.7px;">from</div>
<div class="t" style="left:76px;top:687px;font-size:17.7px;">: start of SEASON 1</div>
<div class="t" style="left:20px;top:717px;font-size:17.7px;">to</div>
<div class="t" style="left:66px;top:717px;font-size:17.7px;">: dekad 1 October 2025</div>
<div class="t" style="left:20px;top:747px;font-size:17.7px;">NON-GRASSLAND PIXELS EXCLUDED</div>
<div class="t" style="left:20px;top:777px;font-size:17.7px;">METOP-AVHRR</div>
<div class="t" style="left:20px;top:807px;font-size:17.7px;">WGS84, Geographic Lat/Lon</div>
<div class="t" style="left:470px;top:650.5px;font-size:14.8px;font-weight:bold;text-decoration:underline;">Mean VHI</div>
<div class="sw" style="top:671px;background:#990000"></div><div class="lt" style="top:671px">&lt; 0.15</div>
<div class="sw" style="top:688px;background:#FF0000"></div><div class="lt" style="top:688px">0.15 - 0.25</div>
<div class="sw" style="top:705px;background:#FF8800"></div><div class="lt" style="top:705px">0.25 - 0.35</div>
<div class="sw" style="top:722px;background:#FFC864"></div><div class="lt" style="top:722px">0.35 - 0.45</div>
<div class="sw" style="top:739px;background:#FFFF00"></div><div class="lt" style="top:739px">0.45 - 0.55</div>
<div class="sw" style="top:756px;background:#66FF00"></div><div class="lt" style="top:756px">0.55 - 0.65</div>
<div class="sw" style="top:773px;background:#33CC00"></div><div class="lt" style="top:773px">0.65 - 0.75</div>
<div class="sw" style="top:790px;background:#009900"></div><div class="lt" style="top:790px">0.75 - 0.85</div>
<div class="sw" style="top:807px;background:#2A6E00"></div><div class="lt" style="top:807px">>= 0.85</div>
<div class="sw" style="top:835px;background:#3C3CFF"></div><div class="lt" style="top:835px">off season</div>
<div class="sw" style="top:852px;background:#333333"></div><div class="lt" style="top:852px">no data</div>
<div class="sw" style="top:869px;background:#C8C8C8"></div><div class="lt" style="top:869px">no grassland</div>

<div class="t" style="left:16px;top:910px;font-size:10.5px;transform:scaleX(1.129);transform-origin:0 0;">Disclaimer: The boundaries and names shown and the designations used on this map do not imply the expression of any opinion whatsoever on the part of FAO</div>
<div class="t" style="left:16px;top:923.5px;font-size:10.5px;transform:scaleX(1.148);transform-origin:0 0;">concerning the legal status of any country, territory, area or of its authorities, or concerning the delimitation of its frontiers and boundaries.</div>
<div class="t" style="left:739.5px;top:734px;font-size:15px;font-weight:bold;color:#111;transform:scaleX(0.909);transform-origin:0 0;">Food and Agriculture</div>
<div class="t" style="left:739.5px;top:752px;font-size:15px;font-weight:bold;color:#111;transform:scaleX(0.937);transform-origin:0 0;">Organization of the</div>
<div class="t" style="left:739.5px;top:770px;font-size:15px;font-weight:bold;color:#111;transform:scaleX(0.917);transform-origin:0 0;">United Nations</div>
<div style="position:absolute;left:673px;top:802px;width:215px;height:2px;background:#111;"></div>
<div class="t" style="left:673px;top:814.5px;font-size:14.2px;color:#222;transform:scaleX(1.034);transform-origin:0 0;">Global Information and Early</div>
<div class="t" style="left:673px;top:833.5px;font-size:14.2px;color:#222;transform:scaleX(0.972);transform-origin:0 0;">Warning System – GIEWS</div>
<svg width="900" height="950" viewBox="0 0 900 950">
<circle cx="701.1" cy="759.3" r="27.2" fill="none" stroke="#111" stroke-width="2.3"/>
<text x="683.3" y="760.4" font-family="Liberation Sans" font-weight="bold" font-size="14.5" text-anchor="middle" fill="#111">F</text>
<text x="718.9" y="760.7" font-family="Liberation Sans" font-weight="bold" font-size="14.5" text-anchor="middle" fill="#111">O</text>
<text x="700.9" y="747.2" font-family="Liberation Sans" font-weight="bold" font-size="12.8" text-anchor="middle" fill="#111">A</text>
<polyline points="685.6,738 701,768 716.4,738" fill="none" stroke="#111" stroke-width="2.4"/>
<polyline points="690.4,738 701,759.5 711.6,738" fill="none" stroke="#111" stroke-width="2.2"/>
<path d="M701,748.5 q-2.6,3.6 -2.1,5.6 q0.5,2 2.1,2 q1.6,0 2.1,-2 q0.5,-2 -2.1,-5.6z" fill="#111"/>
<path d="M694.2,757.5 Q701,767 707.8,757.5 L707.4,765.5 Q705,773.5 701,774.5 Q697,773.5 694.6,765.5 Z" fill="#111"/>
<path d="M695.5,764 Q701,769.5 706.5,764" fill="none" stroke="#fff" stroke-width="0.7"/>
<line x1="701" y1="773" x2="701" y2="787" stroke="#111" stroke-width="1.5"/>
<defs><path id="arcL" d="M676.5,766 A24.8,24.8 0 0 0 699,783.8"/><path id="arcR" d="M704.5,783 A24.8,24.8 0 0 0 725,764.5"/></defs>
<text font-family="Liberation Sans" font-weight="bold" font-size="7" fill="#111" letter-spacing="1.5"><textPath href="#arcL">FIAT</textPath></text>
<text font-family="Liberation Sans" font-weight="bold" font-size="7" fill="#111" letter-spacing="0.5"><textPath href="#arcR">PANIS</textPath></text>
</svg>
</body></html>
